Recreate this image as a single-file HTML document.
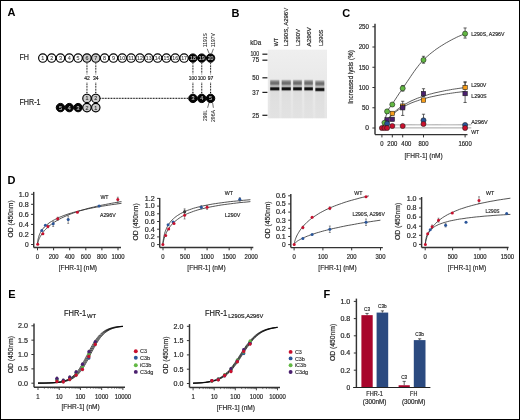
<!DOCTYPE html>
<html><head><meta charset="utf-8"><style>
html,body{margin:0;padding:0;background:#fff;}
body{width:520px;height:420px;overflow:hidden;}
svg{display:block;will-change:transform;font-family:"Liberation Sans", sans-serif;}
</style></head><body>
<svg width="520" height="420" viewBox="0 0 520 420" fill="#262626">
<rect x="0" y="0" width="520" height="420" fill="#fff"/>
<text x="7.60" y="16.40" font-size="11" fill="#000" font-weight="bold">A</text>
<text x="231.60" y="16.90" font-size="11" fill="#000" font-weight="bold">B</text>
<text x="342.20" y="16.70" font-size="11" fill="#000" font-weight="bold">C</text>
<text x="7.40" y="184.10" font-size="11" fill="#000" font-weight="bold">D</text>
<text x="8.20" y="297.70" font-size="11" fill="#000" font-weight="bold">E</text>
<text x="323.60" y="297.70" font-size="11" fill="#000" font-weight="bold">F</text>
<line x1="86.95" y1="63.20" x2="86.95" y2="74.20" stroke="#000" stroke-width="1.1" stroke-dasharray="0.8 0.75"/>
<line x1="86.95" y1="82.80" x2="86.95" y2="94.00" stroke="#000" stroke-width="1.1" stroke-dasharray="0.8 0.75"/>
<line x1="95.78" y1="63.20" x2="95.78" y2="74.20" stroke="#000" stroke-width="1.1" stroke-dasharray="0.8 0.75"/>
<line x1="95.78" y1="82.80" x2="95.78" y2="94.00" stroke="#000" stroke-width="1.1" stroke-dasharray="0.8 0.75"/>
<line x1="192.91" y1="63.20" x2="192.91" y2="74.20" stroke="#000" stroke-width="1.1" stroke-dasharray="0.8 0.75"/>
<line x1="192.91" y1="82.80" x2="192.91" y2="94.00" stroke="#000" stroke-width="1.1" stroke-dasharray="0.8 0.75"/>
<line x1="201.74" y1="63.20" x2="201.74" y2="74.20" stroke="#000" stroke-width="1.1" stroke-dasharray="0.8 0.75"/>
<line x1="201.74" y1="82.80" x2="201.74" y2="94.00" stroke="#000" stroke-width="1.1" stroke-dasharray="0.8 0.75"/>
<line x1="210.57" y1="63.20" x2="210.57" y2="74.20" stroke="#000" stroke-width="1.1" stroke-dasharray="0.8 0.75"/>
<line x1="210.57" y1="82.80" x2="210.57" y2="94.00" stroke="#000" stroke-width="1.1" stroke-dasharray="0.8 0.75"/>
<line x1="100.28" y1="98.40" x2="188.41" y2="98.40" stroke="#000" stroke-width="1.1" stroke-dasharray="0.8 0.75"/>
<circle cx="42.80" cy="58.10" r="4.2" fill="#fff" stroke="#000" stroke-width="1.15"/>
<text x="42.80" y="60.05" font-size="5.4" text-anchor="middle" fill="#444" stroke="#444" stroke-width="0.12">1</text>
<circle cx="51.63" cy="58.10" r="4.2" fill="#fff" stroke="#000" stroke-width="1.15"/>
<text x="51.63" y="60.05" font-size="5.4" text-anchor="middle" fill="#444" stroke="#444" stroke-width="0.12">2</text>
<circle cx="60.46" cy="58.10" r="4.2" fill="#fff" stroke="#000" stroke-width="1.15"/>
<text x="60.46" y="60.05" font-size="5.4" text-anchor="middle" fill="#444" stroke="#444" stroke-width="0.12">3</text>
<circle cx="69.29" cy="58.10" r="4.2" fill="#fff" stroke="#000" stroke-width="1.15"/>
<text x="69.29" y="60.05" font-size="5.4" text-anchor="middle" fill="#444" stroke="#444" stroke-width="0.12">4</text>
<circle cx="78.12" cy="58.10" r="4.2" fill="#fff" stroke="#000" stroke-width="1.15"/>
<text x="78.12" y="60.05" font-size="5.4" text-anchor="middle" fill="#444" stroke="#444" stroke-width="0.12">5</text>
<circle cx="86.95" cy="58.10" r="4.2" fill="#cdcdcd" stroke="#000" stroke-width="1.15"/>
<text x="86.95" y="60.05" font-size="5.4" text-anchor="middle" fill="#333" stroke="#333" stroke-width="0.12">6</text>
<circle cx="95.78" cy="58.10" r="4.2" fill="#cdcdcd" stroke="#000" stroke-width="1.15"/>
<text x="95.78" y="60.05" font-size="5.4" text-anchor="middle" fill="#333" stroke="#333" stroke-width="0.12">7</text>
<circle cx="104.61" cy="58.10" r="4.2" fill="#fff" stroke="#000" stroke-width="1.15"/>
<text x="104.61" y="60.05" font-size="5.4" text-anchor="middle" fill="#444" stroke="#444" stroke-width="0.12">8</text>
<circle cx="113.44" cy="58.10" r="4.2" fill="#fff" stroke="#000" stroke-width="1.15"/>
<text x="113.44" y="60.05" font-size="5.4" text-anchor="middle" fill="#444" stroke="#444" stroke-width="0.12">9</text>
<circle cx="122.27" cy="58.10" r="4.2" fill="#fff" stroke="#000" stroke-width="1.15"/>
<text x="122.27" y="60.05" font-size="4.8" text-anchor="middle" fill="#444" textLength="5.8" lengthAdjust="spacingAndGlyphs" stroke="#444" stroke-width="0.12">10</text>
<circle cx="131.10" cy="58.10" r="4.2" fill="#fff" stroke="#000" stroke-width="1.15"/>
<text x="131.10" y="60.05" font-size="4.8" text-anchor="middle" fill="#444" textLength="5.8" lengthAdjust="spacingAndGlyphs" stroke="#444" stroke-width="0.12">11</text>
<circle cx="139.93" cy="58.10" r="4.2" fill="#fff" stroke="#000" stroke-width="1.15"/>
<text x="139.93" y="60.05" font-size="4.8" text-anchor="middle" fill="#444" textLength="5.8" lengthAdjust="spacingAndGlyphs" stroke="#444" stroke-width="0.12">12</text>
<circle cx="148.76" cy="58.10" r="4.2" fill="#fff" stroke="#000" stroke-width="1.15"/>
<text x="148.76" y="60.05" font-size="4.8" text-anchor="middle" fill="#444" textLength="5.8" lengthAdjust="spacingAndGlyphs" stroke="#444" stroke-width="0.12">13</text>
<circle cx="157.59" cy="58.10" r="4.2" fill="#fff" stroke="#000" stroke-width="1.15"/>
<text x="157.59" y="60.05" font-size="4.8" text-anchor="middle" fill="#444" textLength="5.8" lengthAdjust="spacingAndGlyphs" stroke="#444" stroke-width="0.12">14</text>
<circle cx="166.42" cy="58.10" r="4.2" fill="#fff" stroke="#000" stroke-width="1.15"/>
<text x="166.42" y="60.05" font-size="4.8" text-anchor="middle" fill="#444" textLength="5.8" lengthAdjust="spacingAndGlyphs" stroke="#444" stroke-width="0.12">15</text>
<circle cx="175.25" cy="58.10" r="4.2" fill="#fff" stroke="#000" stroke-width="1.15"/>
<text x="175.25" y="60.05" font-size="4.8" text-anchor="middle" fill="#444" textLength="5.8" lengthAdjust="spacingAndGlyphs" stroke="#444" stroke-width="0.12">16</text>
<circle cx="184.08" cy="58.10" r="4.2" fill="#fff" stroke="#000" stroke-width="1.15"/>
<text x="184.08" y="60.05" font-size="4.8" text-anchor="middle" fill="#444" textLength="5.8" lengthAdjust="spacingAndGlyphs" stroke="#444" stroke-width="0.12">17</text>
<circle cx="192.91" cy="58.10" r="4.2" fill="#050505" stroke="#000" stroke-width="1.0"/>
<text x="192.91" y="60.05" font-size="4.8" text-anchor="middle" fill="#c8c8c8" textLength="5.8" lengthAdjust="spacingAndGlyphs" stroke="#c8c8c8" stroke-width="0.12">18</text>
<circle cx="201.74" cy="58.10" r="4.2" fill="#050505" stroke="#000" stroke-width="1.0"/>
<text x="201.74" y="60.05" font-size="4.8" text-anchor="middle" fill="#c8c8c8" textLength="5.8" lengthAdjust="spacingAndGlyphs" stroke="#c8c8c8" stroke-width="0.12">19</text>
<circle cx="210.57" cy="58.10" r="4.2" fill="#050505" stroke="#000" stroke-width="1.0"/>
<text x="210.57" y="60.05" font-size="4.8" text-anchor="middle" fill="#c8c8c8" textLength="5.8" lengthAdjust="spacingAndGlyphs" stroke="#c8c8c8" stroke-width="0.12">20</text>
<circle cx="86.95" cy="98.40" r="4.2" fill="#cdcdcd" stroke="#000" stroke-width="1.15"/>
<text x="86.95" y="100.35" font-size="5.4" text-anchor="middle" fill="#333" stroke="#333" stroke-width="0.12">1</text>
<circle cx="95.78" cy="98.40" r="4.2" fill="#cdcdcd" stroke="#000" stroke-width="1.15"/>
<text x="95.78" y="100.35" font-size="5.4" text-anchor="middle" fill="#333" stroke="#333" stroke-width="0.12">2</text>
<circle cx="86.95" cy="107.60" r="4.2" fill="#cdcdcd" stroke="#000" stroke-width="1.15"/>
<text x="86.95" y="109.55" font-size="5.4" text-anchor="middle" fill="#333" stroke="#333" stroke-width="0.12">2</text>
<circle cx="95.78" cy="107.60" r="4.2" fill="#cdcdcd" stroke="#000" stroke-width="1.15"/>
<text x="95.78" y="109.55" font-size="5.4" text-anchor="middle" fill="#333" stroke="#333" stroke-width="0.12">1</text>
<circle cx="60.46" cy="107.60" r="4.2" fill="#050505" stroke="#000" stroke-width="1.0"/>
<text x="60.46" y="109.55" font-size="5.4" text-anchor="middle" fill="#c8c8c8" stroke="#c8c8c8" stroke-width="0.12">5</text>
<circle cx="69.29" cy="107.60" r="4.2" fill="#050505" stroke="#000" stroke-width="1.0"/>
<text x="69.29" y="109.55" font-size="5.4" text-anchor="middle" fill="#c8c8c8" stroke="#c8c8c8" stroke-width="0.12">4</text>
<circle cx="78.12" cy="107.60" r="4.2" fill="#050505" stroke="#000" stroke-width="1.0"/>
<text x="78.12" y="109.55" font-size="5.4" text-anchor="middle" fill="#c8c8c8" stroke="#c8c8c8" stroke-width="0.12">3</text>
<circle cx="192.91" cy="98.40" r="4.2" fill="#050505" stroke="#000" stroke-width="1.0"/>
<text x="192.91" y="100.35" font-size="5.4" text-anchor="middle" fill="#c8c8c8" stroke="#c8c8c8" stroke-width="0.12">3</text>
<circle cx="201.74" cy="98.40" r="4.2" fill="#050505" stroke="#000" stroke-width="1.0"/>
<text x="201.74" y="100.35" font-size="5.4" text-anchor="middle" fill="#c8c8c8" stroke="#c8c8c8" stroke-width="0.12">4</text>
<circle cx="210.57" cy="98.40" r="4.2" fill="#050505" stroke="#000" stroke-width="1.0"/>
<text x="210.57" y="100.35" font-size="5.4" text-anchor="middle" fill="#c8c8c8" stroke="#c8c8c8" stroke-width="0.12">5</text>
<text x="19.50" y="60.00" font-size="8.5" textLength="9.5" lengthAdjust="spacingAndGlyphs" stroke="#262626" stroke-width="0.2">FH</text>
<text x="19.50" y="105.30" font-size="8.5" textLength="21" lengthAdjust="spacingAndGlyphs" stroke="#262626" stroke-width="0.2">FHR-1</text>
<text x="86.95" y="80.40" font-size="5.8" text-anchor="middle" fill="#222" textLength="5.6" lengthAdjust="spacingAndGlyphs" stroke="#222" stroke-width="0.18">42</text>
<text x="95.78" y="80.40" font-size="5.8" text-anchor="middle" fill="#222" textLength="5.6" lengthAdjust="spacingAndGlyphs" stroke="#222" stroke-width="0.18">34</text>
<text x="192.91" y="80.40" font-size="5.8" text-anchor="middle" fill="#222" textLength="8.2" lengthAdjust="spacingAndGlyphs" stroke="#222" stroke-width="0.18">100</text>
<text x="201.74" y="80.40" font-size="5.8" text-anchor="middle" fill="#222" textLength="8.2" lengthAdjust="spacingAndGlyphs" stroke="#222" stroke-width="0.18">100</text>
<text x="210.57" y="80.40" font-size="5.8" text-anchor="middle" fill="#222" textLength="5.6" lengthAdjust="spacingAndGlyphs" stroke="#222" stroke-width="0.18">97</text>
<text x="207.40" y="47.20" font-size="5.6" textLength="14" lengthAdjust="spacingAndGlyphs" transform="rotate(-90 207.40 47.20)" stroke="#262626" stroke-width="0.05">1191S</text>
<text x="214.70" y="47.20" font-size="5.6" textLength="14" lengthAdjust="spacingAndGlyphs" transform="rotate(-90 214.70 47.20)" stroke="#262626" stroke-width="0.05">1197V</text>
<line x1="207.20" y1="48.80" x2="209.20" y2="53.60" stroke="#222" stroke-width="0.65"/>
<line x1="213.40" y1="48.80" x2="211.60" y2="53.60" stroke="#222" stroke-width="0.65"/>
<text x="207.40" y="121.00" font-size="5.6" textLength="11" lengthAdjust="spacingAndGlyphs" transform="rotate(-90 207.40 121.00)" stroke="#262626" stroke-width="0.05">290L</text>
<text x="215.30" y="122.00" font-size="5.6" textLength="12" lengthAdjust="spacingAndGlyphs" transform="rotate(-90 215.30 122.00)" stroke="#262626" stroke-width="0.05">296A</text>
<line x1="209.00" y1="102.80" x2="207.60" y2="107.80" stroke="#222" stroke-width="0.65"/>
<line x1="212.60" y1="102.80" x2="213.40" y2="107.80" stroke="#222" stroke-width="0.65"/>
<defs><linearGradient id="gb" x1="0" y1="79.2" x2="0" y2="91.6" gradientUnits="userSpaceOnUse"><stop offset="0.000" stop-color="#e2e2e2"/><stop offset="0.081" stop-color="#b4b4b4"/><stop offset="0.161" stop-color="#8e8e8e"/><stop offset="0.242" stop-color="#747474"/><stop offset="0.331" stop-color="#6a6a6a"/><stop offset="0.411" stop-color="#7c7c7c"/><stop offset="0.492" stop-color="#a6a6a6"/><stop offset="0.565" stop-color="#c2c2c2"/><stop offset="0.621" stop-color="#9c9c9c"/><stop offset="0.677" stop-color="#3c3c3c"/><stop offset="0.734" stop-color="#121212"/><stop offset="0.815" stop-color="#0a0a0a"/><stop offset="0.863" stop-color="#2a2a2a"/><stop offset="0.919" stop-color="#9a9a9a"/><stop offset="1.000" stop-color="#d6d6d6"/></linearGradient><linearGradient id="gh" x1="0" y1="0" x2="1" y2="0"><stop offset="0" stop-color="#fff" stop-opacity="0"/><stop offset="0.13" stop-color="#fff" stop-opacity="1"/><stop offset="0.87" stop-color="#fff" stop-opacity="1"/><stop offset="1" stop-color="#fff" stop-opacity="0"/></linearGradient><mask id="mh" maskContentUnits="objectBoundingBox"><rect x="0" y="0" width="1" height="1" fill="url(#gh)"/></mask><linearGradient id="gl" x1="0" y1="0" x2="0" y2="1"><stop offset="0" stop-color="#dcdcdc"/><stop offset="0.5" stop-color="#e0e0e0"/><stop offset="1" stop-color="#e2e2e2"/></linearGradient><linearGradient id="gbg" x1="0" y1="0" x2="0" y2="1"><stop offset="0" stop-color="#efefef"/><stop offset="0.4" stop-color="#eaeaea"/><stop offset="1" stop-color="#e6e6e6"/></linearGradient></defs>
<rect x="267.80" y="49.70" width="59.20" height="68.60" fill="url(#gbg)"/>
<rect x="269.40" y="86.00" width="10.60" height="32.30" fill="url(#gl)" mask="url(#mh)"/>
<rect x="281.00" y="86.00" width="10.60" height="32.30" fill="url(#gl)" mask="url(#mh)"/>
<rect x="292.40" y="86.00" width="10.20" height="32.30" fill="url(#gl)" mask="url(#mh)"/>
<rect x="303.60" y="86.00" width="10.00" height="32.30" fill="url(#gl)" mask="url(#mh)"/>
<rect x="314.60" y="86.00" width="10.40" height="32.30" fill="url(#gl)" mask="url(#mh)"/>
<rect x="269.40" y="79.20" width="10.60" height="12.40" fill="url(#gb)" mask="url(#mh)"/>
<rect x="281.00" y="79.20" width="10.60" height="12.40" fill="url(#gb)" mask="url(#mh)"/>
<rect x="292.40" y="79.20" width="10.20" height="12.40" fill="url(#gb)" mask="url(#mh)"/>
<rect x="303.60" y="79.20" width="10.00" height="12.40" fill="url(#gb)" mask="url(#mh)"/>
<rect x="314.60" y="79.20" width="10.40" height="12.40" fill="url(#gb)" mask="url(#mh)" transform="translate(0 0.6)"/>
<line x1="262.40" y1="54.20" x2="267.40" y2="54.20" stroke="#222" stroke-width="1.25"/>
<text x="259.10" y="56.40" font-size="6.3" text-anchor="end" textLength="8.6" lengthAdjust="spacingAndGlyphs" stroke="#262626" stroke-width="0.18">100</text>
<line x1="262.40" y1="60.20" x2="267.40" y2="60.20" stroke="#222" stroke-width="1.25"/>
<text x="259.10" y="62.40" font-size="6.3" text-anchor="end" textLength="6.8" lengthAdjust="spacingAndGlyphs" stroke="#262626" stroke-width="0.18">75</text>
<line x1="262.40" y1="77.80" x2="267.40" y2="77.80" stroke="#222" stroke-width="1.25"/>
<text x="259.10" y="80.00" font-size="6.3" text-anchor="end" textLength="6.8" lengthAdjust="spacingAndGlyphs" stroke="#262626" stroke-width="0.18">50</text>
<line x1="262.40" y1="92.40" x2="267.40" y2="92.40" stroke="#222" stroke-width="1.25"/>
<text x="259.10" y="94.60" font-size="6.3" text-anchor="end" textLength="6.8" lengthAdjust="spacingAndGlyphs" stroke="#262626" stroke-width="0.18">37</text>
<line x1="262.40" y1="115.30" x2="267.40" y2="115.30" stroke="#222" stroke-width="1.25"/>
<text x="259.10" y="117.50" font-size="6.3" text-anchor="end" textLength="6.8" lengthAdjust="spacingAndGlyphs" stroke="#262626" stroke-width="0.18">25</text>
<text x="250.20" y="45.20" font-size="6.4" textLength="11" lengthAdjust="spacingAndGlyphs" stroke="#262626" stroke-width="0.18">kDa</text>
<text x="278.10" y="46.20" font-size="6.1" textLength="8.2" lengthAdjust="spacingAndGlyphs" transform="rotate(-90 278.10 46.20)" stroke="#262626" stroke-width="0.18">WT</text>
<text x="288.50" y="46.20" font-size="6.1" textLength="38.4" lengthAdjust="spacingAndGlyphs" transform="rotate(-90 288.50 46.20)" stroke="#262626" stroke-width="0.18">L290S, A296V</text>
<text x="299.70" y="46.10" font-size="6.1" textLength="17.2" lengthAdjust="spacingAndGlyphs" transform="rotate(-90 299.70 46.10)" stroke="#262626" stroke-width="0.18">L290V</text>
<text x="311.30" y="46.60" font-size="6.1" textLength="19.5" lengthAdjust="spacingAndGlyphs" transform="rotate(-90 311.30 46.60)" stroke="#262626" stroke-width="0.18">A296V</text>
<text x="322.90" y="46.10" font-size="6.1" textLength="16.5" lengthAdjust="spacingAndGlyphs" transform="rotate(-90 322.90 46.10)" stroke="#262626" stroke-width="0.18">L290S</text>
<line x1="375.00" y1="23.70" x2="375.00" y2="134.60" stroke="#333" stroke-width="1.45"/>
<line x1="372.40" y1="26.75" x2="375.00" y2="26.75" stroke="#333" stroke-width="1.0"/>
<text x="369.00" y="29.10" font-size="6.6" text-anchor="end" textLength="10.3" lengthAdjust="spacingAndGlyphs" stroke="#262626" stroke-width="0.18">250</text>
<line x1="372.40" y1="47.00" x2="375.00" y2="47.00" stroke="#333" stroke-width="1.0"/>
<text x="369.00" y="49.35" font-size="6.6" text-anchor="end" textLength="10.3" lengthAdjust="spacingAndGlyphs" stroke="#262626" stroke-width="0.18">200</text>
<line x1="372.40" y1="67.25" x2="375.00" y2="67.25" stroke="#333" stroke-width="1.0"/>
<text x="369.00" y="69.60" font-size="6.6" text-anchor="end" textLength="10.3" lengthAdjust="spacingAndGlyphs" stroke="#262626" stroke-width="0.18">150</text>
<line x1="372.40" y1="87.50" x2="375.00" y2="87.50" stroke="#333" stroke-width="1.0"/>
<text x="369.00" y="89.85" font-size="6.6" text-anchor="end" textLength="10.3" lengthAdjust="spacingAndGlyphs" stroke="#262626" stroke-width="0.18">100</text>
<line x1="372.40" y1="107.75" x2="375.00" y2="107.75" stroke="#333" stroke-width="1.0"/>
<text x="369.00" y="110.10" font-size="6.6" text-anchor="end" textLength="7.0" lengthAdjust="spacingAndGlyphs" stroke="#262626" stroke-width="0.18">50</text>
<line x1="372.40" y1="128.00" x2="375.00" y2="128.00" stroke="#333" stroke-width="1.0"/>
<text x="369.00" y="130.35" font-size="6.6" text-anchor="end" textLength="3.7" lengthAdjust="spacingAndGlyphs" stroke="#262626" stroke-width="0.18">0</text>
<line x1="375.00" y1="134.60" x2="467.50" y2="134.60" stroke="#333" stroke-width="1.45"/>
<line x1="381.90" y1="134.60" x2="381.90" y2="137.40" stroke="#333" stroke-width="1.0"/>
<text x="381.90" y="145.80" font-size="6.4" text-anchor="middle" textLength="3.3" lengthAdjust="spacingAndGlyphs" stroke="#262626" stroke-width="0.18">0</text>
<line x1="392.30" y1="134.60" x2="392.30" y2="137.40" stroke="#333" stroke-width="1.0"/>
<text x="392.30" y="145.80" font-size="6.4" text-anchor="middle" textLength="9.9" lengthAdjust="spacingAndGlyphs" stroke="#262626" stroke-width="0.18">200</text>
<line x1="402.70" y1="134.60" x2="402.70" y2="137.40" stroke="#333" stroke-width="1.0"/>
<text x="406.30" y="145.80" font-size="6.4" text-anchor="middle" textLength="9.9" lengthAdjust="spacingAndGlyphs" stroke="#262626" stroke-width="0.18">400</text>
<line x1="423.50" y1="134.60" x2="423.50" y2="137.40" stroke="#333" stroke-width="1.0"/>
<text x="423.50" y="145.80" font-size="6.4" text-anchor="middle" textLength="9.9" lengthAdjust="spacingAndGlyphs" stroke="#262626" stroke-width="0.18">800</text>
<line x1="465.10" y1="134.60" x2="465.10" y2="137.40" stroke="#333" stroke-width="1.0"/>
<text x="465.10" y="145.80" font-size="6.4" text-anchor="middle" textLength="13.2" lengthAdjust="spacingAndGlyphs" stroke="#262626" stroke-width="0.18">1600</text>
<text x="352.84" y="76.90" font-size="7.8" text-anchor="middle" textLength="53.5" lengthAdjust="spacingAndGlyphs" transform="rotate(-90 352.84 76.90)" stroke="#262626" stroke-width="0.18">Increased lysis (%)</text>
<text x="423.60" y="157.80" font-size="8.0" text-anchor="middle" textLength="38.3" lengthAdjust="spacingAndGlyphs" stroke="#262626" stroke-width="0.18">[FHR-1] (nM)</text>
<path d="M381.9,121.8 L382.9,123.5 L384.0,124.2 L385.0,124.5 L386.1,124.7 L387.1,124.7 L388.1,124.8 L389.2,124.8 L390.2,124.8 L391.3,124.8 L392.3,124.8 L393.3,124.8 L394.4,124.8 L395.4,124.8 L396.5,124.8 L397.5,124.8 L398.5,124.8 L399.6,124.8 L400.6,124.8 L401.7,124.8 L402.7,124.8 L403.7,124.8 L404.8,124.8 L405.8,124.8 L406.9,124.8 L407.9,124.8 L408.9,124.8 L410.0,124.8 L411.0,124.8 L412.1,124.8 L413.1,124.8 L414.1,124.8 L415.2,124.8 L416.2,124.8 L417.3,124.8 L418.3,124.8 L419.3,124.8 L420.4,124.8 L421.4,124.8 L422.5,124.8 L423.5,124.8 L424.5,124.8 L425.6,124.8 L426.6,124.8 L427.7,124.8 L428.7,124.8 L429.7,124.8 L430.8,124.8 L431.8,124.8 L432.9,124.8 L433.9,124.8 L434.9,124.8 L436.0,124.8 L437.0,124.8 L438.1,124.8 L439.1,124.8 L440.1,124.8 L441.2,124.8 L442.2,124.8 L443.3,124.8 L444.3,124.8 L445.3,124.8 L446.4,124.8 L447.4,124.8 L448.5,124.8 L449.5,124.8 L450.5,124.8 L451.6,124.8 L452.6,124.8 L453.7,124.8 L454.7,124.8 L455.7,124.8 L456.8,124.8 L457.8,124.8 L458.9,124.8 L459.9,124.8 L460.9,124.8 L462.0,124.8 L463.0,124.8 L464.1,124.8 L465.1,124.8 L466.1,124.8 L467.2,124.8 L468.2,124.8 L469.3,124.8 L470.3,124.8 L471.3,124.8" stroke="#999" stroke-width="0.9" fill="none"/>
<path d="M381.9,127.9 L471.3,127.9" stroke="#999" stroke-width="0.9" fill="none"/>
<path d="M381.9,128.0 L384.0,124.5 L386.1,121.4 L388.1,118.6 L390.2,116.2 L392.3,114.0 L394.4,112.0 L396.5,110.2 L398.5,108.5 L400.6,107.0 L402.7,105.6 L404.8,104.3 L406.9,103.2 L408.9,102.1 L411.0,101.0 L413.1,100.1 L415.2,99.2 L417.3,98.3 L419.3,97.6 L421.4,96.8 L423.5,96.1 L425.6,95.5 L427.7,94.8 L429.7,94.2 L431.8,93.7 L433.9,93.1 L436.0,92.6 L438.1,92.2 L440.1,91.7 L442.2,91.3 L444.3,90.8 L446.4,90.4 L448.5,90.1 L450.5,89.7 L452.6,89.3 L454.7,89.0 L456.8,88.7 L458.9,88.4 L460.9,88.1 L463.0,87.8 L465.1,87.5" stroke="#333" stroke-width="0.8" fill="none"/>
<path d="M381.9,128.0 L384.0,124.6 L386.1,121.7 L388.1,119.1 L390.2,116.9 L392.3,114.8 L394.4,113.0 L396.5,111.3 L398.5,109.8 L400.6,108.5 L402.7,107.2 L404.8,106.1 L406.9,105.0 L408.9,104.1 L411.0,103.1 L413.1,102.3 L415.2,101.5 L417.3,100.8 L419.3,100.1 L421.4,99.4 L423.5,98.8 L425.6,98.3 L427.7,97.7 L429.7,97.2 L431.8,96.7 L433.9,96.3 L436.0,95.8 L438.1,95.4 L440.1,95.0 L442.2,94.6 L444.3,94.3 L446.4,93.9 L448.5,93.6 L450.5,93.3 L452.6,93.0 L454.7,92.7 L456.8,92.4 L458.9,92.2 L460.9,91.9 L463.0,91.7 L465.1,91.4" stroke="#333" stroke-width="0.8" fill="none"/>
<path d="M381.9,128.0 L383.6,124.1 L385.3,118.6 L387.0,112.3 L388.7,109.0 L390.4,106.6 L392.1,104.3 L393.8,101.7 L395.5,99.1 L397.2,96.5 L398.9,93.9 L400.6,91.4 L402.3,88.9 L404.0,86.4 L405.7,83.9 L407.4,81.4 L409.1,78.9 L410.8,76.3 L412.5,73.8 L414.2,71.4 L415.9,69.0 L417.6,66.8 L419.3,64.6 L421.0,62.6 L422.7,60.8 L424.3,59.1 L426.0,57.5 L427.7,56.0 L429.4,54.5 L431.1,53.1 L432.8,51.8 L434.5,50.5 L436.2,49.2 L437.9,48.1 L439.6,46.9 L441.3,45.8 L443.0,44.8 L444.7,43.7 L446.4,42.7 L448.1,41.8 L449.8,40.8 L451.5,39.9 L453.2,39.0 L454.9,38.2 L456.6,37.3 L458.3,36.5 L460.0,35.8 L461.7,35.1 L463.4,34.4 L465.1,33.8" stroke="#333" stroke-width="0.8" fill="none"/>
<rect x="390.10" y="111.22" width="4.40" height="4.40" fill="#f59c1a" stroke="#1a1a1a" stroke-width="0.55"/>
<rect x="400.50" y="103.93" width="4.40" height="4.40" fill="#f59c1a" stroke="#1a1a1a" stroke-width="0.55"/>
<rect x="384.90" y="117.70" width="4.40" height="4.40" fill="#4a1f6e" stroke="#1a1a1a" stroke-width="0.55"/>
<rect x="390.10" y="117.09" width="4.40" height="4.40" fill="#4a1f6e" stroke="#1a1a1a" stroke-width="0.55"/>
<line x1="402.70" y1="101.27" x2="402.70" y2="115.44" stroke="#222" stroke-width="0.7"/>
<line x1="401.10" y1="101.27" x2="404.30" y2="101.27" stroke="#222" stroke-width="0.7"/>
<line x1="401.10" y1="115.44" x2="404.30" y2="115.44" stroke="#222" stroke-width="0.7"/>
<rect x="400.50" y="105.55" width="4.40" height="4.40" fill="#4a1f6e" stroke="#1a1a1a" stroke-width="0.55"/>
<line x1="423.50" y1="88.72" x2="423.50" y2="96.41" stroke="#222" stroke-width="0.7"/>
<line x1="421.90" y1="88.72" x2="425.10" y2="88.72" stroke="#222" stroke-width="0.7"/>
<line x1="421.90" y1="96.41" x2="425.10" y2="96.41" stroke="#222" stroke-width="0.7"/>
<rect x="421.30" y="91.37" width="4.40" height="4.40" fill="#4a1f6e" stroke="#1a1a1a" stroke-width="0.55"/>
<line x1="465.10" y1="82.23" x2="465.10" y2="102.48" stroke="#222" stroke-width="0.7"/>
<line x1="463.50" y1="82.23" x2="466.70" y2="82.23" stroke="#222" stroke-width="0.7"/>
<line x1="463.50" y1="102.48" x2="466.70" y2="102.48" stroke="#222" stroke-width="0.7"/>
<rect x="462.90" y="91.37" width="4.40" height="4.40" fill="#4a1f6e" stroke="#1a1a1a" stroke-width="0.55"/>
<rect x="421.30" y="97.86" width="4.40" height="4.40" fill="#f59c1a" stroke="#1a1a1a" stroke-width="0.55"/>
<line x1="465.10" y1="81.83" x2="465.10" y2="87.50" stroke="#222" stroke-width="0.7"/>
<line x1="463.50" y1="81.83" x2="466.70" y2="81.83" stroke="#222" stroke-width="0.7"/>
<line x1="463.50" y1="87.50" x2="466.70" y2="87.50" stroke="#222" stroke-width="0.7"/>
<rect x="462.90" y="85.30" width="4.40" height="4.40" fill="#f59c1a" stroke="#1a1a1a" stroke-width="0.55"/>
<circle cx="384.50" cy="122.73" r="2.55" fill="#62b843" stroke="#1a1a1a" stroke-width="0.55"/>
<circle cx="387.10" cy="111.39" r="2.55" fill="#62b843" stroke="#1a1a1a" stroke-width="0.55"/>
<circle cx="392.30" cy="104.51" r="2.55" fill="#62b843" stroke="#1a1a1a" stroke-width="0.55"/>
<line x1="402.70" y1="85.47" x2="402.70" y2="91.14" stroke="#222" stroke-width="0.7"/>
<line x1="401.10" y1="85.47" x2="404.30" y2="85.47" stroke="#222" stroke-width="0.7"/>
<line x1="401.10" y1="91.14" x2="404.30" y2="91.14" stroke="#222" stroke-width="0.7"/>
<circle cx="402.70" cy="88.31" r="2.55" fill="#62b843" stroke="#1a1a1a" stroke-width="0.55"/>
<line x1="423.50" y1="56.31" x2="423.50" y2="63.20" stroke="#222" stroke-width="0.7"/>
<line x1="421.90" y1="56.31" x2="425.10" y2="56.31" stroke="#222" stroke-width="0.7"/>
<line x1="421.90" y1="63.20" x2="425.10" y2="63.20" stroke="#222" stroke-width="0.7"/>
<circle cx="423.50" cy="59.96" r="2.55" fill="#62b843" stroke="#1a1a1a" stroke-width="0.55"/>
<line x1="465.10" y1="27.96" x2="465.10" y2="38.09" stroke="#222" stroke-width="0.7"/>
<line x1="463.50" y1="27.96" x2="466.70" y2="27.96" stroke="#222" stroke-width="0.7"/>
<line x1="463.50" y1="38.09" x2="466.70" y2="38.09" stroke="#222" stroke-width="0.7"/>
<circle cx="465.10" cy="33.63" r="2.55" fill="#62b843" stroke="#1a1a1a" stroke-width="0.55"/>
<circle cx="387.10" cy="123.55" r="2.55" fill="#2a5599" stroke="#1a1a1a" stroke-width="0.55"/>
<line x1="423.50" y1="114.23" x2="423.50" y2="123.95" stroke="#222" stroke-width="0.7"/>
<line x1="421.90" y1="114.23" x2="425.10" y2="114.23" stroke="#222" stroke-width="0.7"/>
<line x1="421.90" y1="123.95" x2="425.10" y2="123.95" stroke="#222" stroke-width="0.7"/>
<circle cx="423.50" cy="120.31" r="2.55" fill="#2a5599" stroke="#1a1a1a" stroke-width="0.55"/>
<circle cx="465.10" cy="124.96" r="2.55" fill="#2a5599" stroke="#1a1a1a" stroke-width="0.55"/>
<circle cx="381.90" cy="128.00" r="2.55" fill="#c8102e" stroke="#1a1a1a" stroke-width="0.55"/>
<circle cx="384.50" cy="128.00" r="2.55" fill="#c8102e" stroke="#1a1a1a" stroke-width="0.55"/>
<circle cx="387.10" cy="128.00" r="2.55" fill="#c8102e" stroke="#1a1a1a" stroke-width="0.55"/>
<circle cx="392.30" cy="125.97" r="2.55" fill="#c8102e" stroke="#1a1a1a" stroke-width="0.55"/>
<circle cx="402.70" cy="125.97" r="2.55" fill="#c8102e" stroke="#1a1a1a" stroke-width="0.55"/>
<circle cx="423.50" cy="123.95" r="2.55" fill="#c8102e" stroke="#1a1a1a" stroke-width="0.55"/>
<circle cx="465.10" cy="128.00" r="2.55" fill="#c8102e" stroke="#1a1a1a" stroke-width="0.55"/>
<text x="471.20" y="36.20" font-size="6.2" textLength="33.2" lengthAdjust="spacingAndGlyphs" stroke="#262626" stroke-width="0.18">L290S, A296V</text>
<text x="471.20" y="86.90" font-size="6.2" textLength="15.2" lengthAdjust="spacingAndGlyphs" stroke="#262626" stroke-width="0.18">L290V</text>
<text x="471.20" y="98.40" font-size="6.2" textLength="15.5" lengthAdjust="spacingAndGlyphs" stroke="#262626" stroke-width="0.18">L290S</text>
<text x="471.20" y="124.40" font-size="6.2" textLength="16.5" lengthAdjust="spacingAndGlyphs" stroke="#262626" stroke-width="0.18">A296V</text>
<text x="471.20" y="134.20" font-size="6.2" textLength="8" lengthAdjust="spacingAndGlyphs" stroke="#262626" stroke-width="0.18">WT</text>
<line x1="33.70" y1="191.90" x2="33.70" y2="247.50" stroke="#333" stroke-width="1.45"/>
<line x1="31.10" y1="194.25" x2="33.70" y2="194.25" stroke="#333" stroke-width="1.0"/>
<text x="28.70" y="196.60" font-size="6.6" text-anchor="end" textLength="9.9" lengthAdjust="spacingAndGlyphs" stroke="#262626" stroke-width="0.18">1.0</text>
<line x1="31.10" y1="204.30" x2="33.70" y2="204.30" stroke="#333" stroke-width="1.0"/>
<text x="28.70" y="206.65" font-size="6.6" text-anchor="end" textLength="9.9" lengthAdjust="spacingAndGlyphs" stroke="#262626" stroke-width="0.18">0.8</text>
<line x1="31.10" y1="214.35" x2="33.70" y2="214.35" stroke="#333" stroke-width="1.0"/>
<text x="28.70" y="216.70" font-size="6.6" text-anchor="end" textLength="9.9" lengthAdjust="spacingAndGlyphs" stroke="#262626" stroke-width="0.18">0.6</text>
<line x1="31.10" y1="224.40" x2="33.70" y2="224.40" stroke="#333" stroke-width="1.0"/>
<text x="28.70" y="226.75" font-size="6.6" text-anchor="end" textLength="9.9" lengthAdjust="spacingAndGlyphs" stroke="#262626" stroke-width="0.18">0.4</text>
<line x1="31.10" y1="234.45" x2="33.70" y2="234.45" stroke="#333" stroke-width="1.0"/>
<text x="28.70" y="236.80" font-size="6.6" text-anchor="end" textLength="9.9" lengthAdjust="spacingAndGlyphs" stroke="#262626" stroke-width="0.18">0.2</text>
<line x1="31.10" y1="244.50" x2="33.70" y2="244.50" stroke="#333" stroke-width="1.0"/>
<text x="28.70" y="246.85" font-size="6.6" text-anchor="end" textLength="3.7" lengthAdjust="spacingAndGlyphs" stroke="#262626" stroke-width="0.18">0</text>
<line x1="33.70" y1="247.50" x2="121.00" y2="247.50" stroke="#333" stroke-width="1.45"/>
<line x1="37.50" y1="247.50" x2="37.50" y2="250.30" stroke="#333" stroke-width="1.0"/>
<text x="37.50" y="259.20" font-size="6.4" text-anchor="middle" textLength="3.3" lengthAdjust="spacingAndGlyphs" stroke="#262626" stroke-width="0.18">0</text>
<line x1="53.60" y1="247.50" x2="53.60" y2="250.30" stroke="#333" stroke-width="1.0"/>
<text x="53.60" y="259.20" font-size="6.4" text-anchor="middle" textLength="9.9" lengthAdjust="spacingAndGlyphs" stroke="#262626" stroke-width="0.18">200</text>
<line x1="69.70" y1="247.50" x2="69.70" y2="250.30" stroke="#333" stroke-width="1.0"/>
<text x="69.70" y="259.20" font-size="6.4" text-anchor="middle" textLength="9.9" lengthAdjust="spacingAndGlyphs" stroke="#262626" stroke-width="0.18">400</text>
<line x1="85.80" y1="247.50" x2="85.80" y2="250.30" stroke="#333" stroke-width="1.0"/>
<text x="85.80" y="259.20" font-size="6.4" text-anchor="middle" textLength="9.9" lengthAdjust="spacingAndGlyphs" stroke="#262626" stroke-width="0.18">600</text>
<line x1="101.90" y1="247.50" x2="101.90" y2="250.30" stroke="#333" stroke-width="1.0"/>
<text x="101.90" y="259.20" font-size="6.4" text-anchor="middle" textLength="9.9" lengthAdjust="spacingAndGlyphs" stroke="#262626" stroke-width="0.18">800</text>
<line x1="118.00" y1="247.50" x2="118.00" y2="250.30" stroke="#333" stroke-width="1.0"/>
<text x="118.00" y="259.20" font-size="6.4" text-anchor="middle" textLength="13.2" lengthAdjust="spacingAndGlyphs" stroke="#262626" stroke-width="0.18">1000</text>
<text x="13.00" y="218.90" font-size="7.0" text-anchor="middle" textLength="37.2" lengthAdjust="spacingAndGlyphs" transform="rotate(-90 13.00 218.90)" stroke="#262626" stroke-width="0.18">OD (450nm)</text>
<text x="77.90" y="269.50" font-size="8.0" text-anchor="middle" textLength="38.3" lengthAdjust="spacingAndGlyphs" stroke="#262626" stroke-width="0.18">[FHR-1] (nM)</text>
<path d="M37.6,244.4 L37.6,243.0 L37.7,241.6 L37.9,240.2 L38.2,238.8 L38.5,237.5 L38.9,236.2 L39.3,234.9 L39.8,233.7 L40.4,232.5 L41.1,231.3 L41.8,230.2 L42.6,229.1 L43.5,228.0 L44.4,227.0 L45.5,226.0 L46.5,225.0 L47.7,224.1 L48.9,223.1 L50.2,222.2 L51.6,221.4 L53.0,220.5 L54.5,219.7 L56.1,218.9 L57.7,218.1 L59.4,217.3 L61.2,216.6 L63.1,215.8 L65.0,215.1 L67.0,214.4 L69.0,213.7 L71.2,213.1 L73.4,212.4 L75.7,211.8 L78.0,211.2 L80.4,210.6 L82.9,210.0 L85.4,209.4 L88.1,208.8 L90.7,208.3 L93.5,207.7 L96.3,207.2 L99.2,206.7 L102.2,206.2 L105.3,205.7 L108.4,205.2 L111.5,204.7 L114.8,204.3 L118.1,203.8 L121.5,203.3" stroke="#2a2a2a" stroke-width="0.8" fill="none"/>
<path d="M37.6,244.4 L37.6,244.0 L37.7,243.3 L37.9,242.5 L38.2,241.6 L38.5,240.6 L38.9,239.5 L39.3,238.5 L39.8,237.4 L40.4,236.3 L41.1,235.2 L41.8,234.0 L42.6,232.9 L43.5,231.8 L44.4,230.6 L45.5,229.5 L46.5,228.4 L47.7,227.3 L48.9,226.2 L50.2,225.2 L51.6,224.1 L53.0,223.1 L54.5,222.1 L56.1,221.1 L57.7,220.1 L59.4,219.2 L61.2,218.2 L63.1,217.3 L65.0,216.4 L67.0,215.5 L69.0,214.7 L71.2,213.8 L73.4,213.0 L75.7,212.2 L78.0,211.4 L80.4,210.6 L82.9,209.9 L85.4,209.2 L88.1,208.4 L90.7,207.7 L93.5,207.1 L96.3,206.4 L99.2,205.7 L102.2,205.1 L105.3,204.5 L108.4,203.9 L111.5,203.3 L114.8,202.7 L118.1,202.1 L121.5,201.6" stroke="#2a2a2a" stroke-width="0.8" fill="none"/>
<circle cx="37.70" cy="244.30" r="1.5" fill="#c8102e"/>
<circle cx="41.80" cy="230.60" r="1.5" fill="#2a5599"/>
<circle cx="42.90" cy="233.70" r="1.5" fill="#c8102e"/>
<circle cx="45.40" cy="225.30" r="1.5" fill="#2a5599"/>
<line x1="47.90" y1="225.20" x2="47.90" y2="227.80" stroke="#444" stroke-width="0.55"/>
<line x1="46.95" y1="225.20" x2="48.85" y2="225.20" stroke="#444" stroke-width="0.55"/>
<line x1="46.95" y1="227.80" x2="48.85" y2="227.80" stroke="#444" stroke-width="0.55"/>
<circle cx="47.90" cy="226.50" r="1.5" fill="#c8102e"/>
<line x1="53.20" y1="221.70" x2="53.20" y2="226.50" stroke="#444" stroke-width="0.55"/>
<line x1="52.25" y1="221.70" x2="54.15" y2="221.70" stroke="#444" stroke-width="0.55"/>
<line x1="52.25" y1="226.50" x2="54.15" y2="226.50" stroke="#444" stroke-width="0.55"/>
<circle cx="53.20" cy="223.70" r="1.5" fill="#2a5599"/>
<line x1="57.70" y1="217.20" x2="57.70" y2="220.40" stroke="#444" stroke-width="0.55"/>
<line x1="56.75" y1="217.20" x2="58.65" y2="217.20" stroke="#444" stroke-width="0.55"/>
<line x1="56.75" y1="220.40" x2="58.65" y2="220.40" stroke="#444" stroke-width="0.55"/>
<circle cx="57.70" cy="218.80" r="1.5" fill="#c8102e"/>
<line x1="68.20" y1="216.00" x2="68.20" y2="223.40" stroke="#444" stroke-width="0.55"/>
<line x1="67.25" y1="216.00" x2="69.15" y2="216.00" stroke="#444" stroke-width="0.55"/>
<line x1="67.25" y1="223.40" x2="69.15" y2="223.40" stroke="#444" stroke-width="0.55"/>
<circle cx="68.20" cy="219.60" r="1.5" fill="#2a5599"/>
<circle cx="77.40" cy="212.30" r="1.5" fill="#c8102e"/>
<circle cx="99.10" cy="206.10" r="1.5" fill="#2a5599"/>
<line x1="117.80" y1="197.20" x2="117.80" y2="203.00" stroke="#444" stroke-width="0.55"/>
<line x1="116.85" y1="197.20" x2="118.75" y2="197.20" stroke="#444" stroke-width="0.55"/>
<line x1="116.85" y1="203.00" x2="118.75" y2="203.00" stroke="#444" stroke-width="0.55"/>
<circle cx="117.80" cy="199.50" r="1.5" fill="#c8102e"/>
<text x="100.40" y="199.20" font-size="5.9" textLength="8.2" lengthAdjust="spacingAndGlyphs" stroke="#262626" stroke-width="0.18">WT</text>
<text x="100.00" y="217.20" font-size="5.9" textLength="15.6" lengthAdjust="spacingAndGlyphs" stroke="#262626" stroke-width="0.18">A296V</text>
<line x1="159.70" y1="198.00" x2="159.70" y2="247.50" stroke="#333" stroke-width="1.45"/>
<line x1="157.10" y1="198.40" x2="159.70" y2="198.40" stroke="#333" stroke-width="1.0"/>
<text x="154.70" y="200.75" font-size="6.6" text-anchor="end" textLength="9.9" lengthAdjust="spacingAndGlyphs" stroke="#262626" stroke-width="0.18">1.2</text>
<line x1="157.10" y1="206.10" x2="159.70" y2="206.10" stroke="#333" stroke-width="1.0"/>
<text x="154.70" y="208.45" font-size="6.6" text-anchor="end" textLength="9.9" lengthAdjust="spacingAndGlyphs" stroke="#262626" stroke-width="0.18">1.0</text>
<line x1="157.10" y1="213.80" x2="159.70" y2="213.80" stroke="#333" stroke-width="1.0"/>
<text x="154.70" y="216.15" font-size="6.6" text-anchor="end" textLength="9.9" lengthAdjust="spacingAndGlyphs" stroke="#262626" stroke-width="0.18">0.8</text>
<line x1="157.10" y1="221.50" x2="159.70" y2="221.50" stroke="#333" stroke-width="1.0"/>
<text x="154.70" y="223.85" font-size="6.6" text-anchor="end" textLength="9.9" lengthAdjust="spacingAndGlyphs" stroke="#262626" stroke-width="0.18">0.6</text>
<line x1="157.10" y1="229.20" x2="159.70" y2="229.20" stroke="#333" stroke-width="1.0"/>
<text x="154.70" y="231.55" font-size="6.6" text-anchor="end" textLength="9.9" lengthAdjust="spacingAndGlyphs" stroke="#262626" stroke-width="0.18">0.4</text>
<line x1="157.10" y1="236.90" x2="159.70" y2="236.90" stroke="#333" stroke-width="1.0"/>
<text x="154.70" y="239.25" font-size="6.6" text-anchor="end" textLength="9.9" lengthAdjust="spacingAndGlyphs" stroke="#262626" stroke-width="0.18">0.2</text>
<line x1="157.10" y1="244.60" x2="159.70" y2="244.60" stroke="#333" stroke-width="1.0"/>
<text x="154.70" y="246.95" font-size="6.6" text-anchor="end" textLength="3.7" lengthAdjust="spacingAndGlyphs" stroke="#262626" stroke-width="0.18">0</text>
<line x1="159.70" y1="247.50" x2="253.30" y2="247.50" stroke="#333" stroke-width="1.45"/>
<line x1="163.00" y1="247.50" x2="163.00" y2="250.30" stroke="#333" stroke-width="1.0"/>
<text x="163.00" y="259.20" font-size="6.4" text-anchor="middle" textLength="3.3" lengthAdjust="spacingAndGlyphs" stroke="#262626" stroke-width="0.18">0</text>
<line x1="185.05" y1="247.50" x2="185.05" y2="250.30" stroke="#333" stroke-width="1.0"/>
<text x="185.05" y="259.20" font-size="6.4" text-anchor="middle" textLength="9.9" lengthAdjust="spacingAndGlyphs" stroke="#262626" stroke-width="0.18">500</text>
<line x1="207.10" y1="247.50" x2="207.10" y2="250.30" stroke="#333" stroke-width="1.0"/>
<text x="207.10" y="259.20" font-size="6.4" text-anchor="middle" textLength="13.2" lengthAdjust="spacingAndGlyphs" stroke="#262626" stroke-width="0.18">1000</text>
<line x1="229.15" y1="247.50" x2="229.15" y2="250.30" stroke="#333" stroke-width="1.0"/>
<text x="229.15" y="259.20" font-size="6.4" text-anchor="middle" textLength="13.2" lengthAdjust="spacingAndGlyphs" stroke="#262626" stroke-width="0.18">1500</text>
<line x1="251.20" y1="247.50" x2="251.20" y2="250.30" stroke="#333" stroke-width="1.0"/>
<text x="251.20" y="259.20" font-size="6.4" text-anchor="middle" textLength="13.2" lengthAdjust="spacingAndGlyphs" stroke="#262626" stroke-width="0.18">2000</text>
<text x="138.50" y="221.95" font-size="7.0" text-anchor="middle" textLength="37.2" lengthAdjust="spacingAndGlyphs" transform="rotate(-90 138.50 221.95)" stroke="#262626" stroke-width="0.18">OD (450nm)</text>
<text x="206.50" y="269.50" font-size="8.0" text-anchor="middle" textLength="38.3" lengthAdjust="spacingAndGlyphs" stroke="#262626" stroke-width="0.18">[FHR-1] (nM)</text>
<path d="M162.9,244.5 L162.9,243.5 L163.0,242.1 L163.2,240.4 L163.5,238.7 L163.8,236.9 L164.2,235.1 L164.7,233.3 L165.2,231.6 L165.9,229.9 L166.5,228.3 L167.3,226.7 L168.1,225.2 L169.1,223.8 L170.0,222.4 L171.1,221.1 L172.2,219.9 L173.4,218.7 L174.7,217.6 L176.1,216.5 L177.5,215.5 L179.0,214.6 L180.5,213.6 L182.2,212.8 L183.9,211.9 L185.7,211.2 L187.5,210.4 L189.5,209.7 L191.5,209.0 L193.5,208.3 L195.7,207.7 L197.9,207.1 L200.2,206.6 L202.6,206.0 L205.0,205.5 L207.5,205.0 L210.1,204.5 L212.8,204.0 L215.5,203.6 L218.3,203.2 L221.2,202.8 L224.2,202.4 L227.2,202.0 L230.3,201.6 L233.5,201.3 L236.7,201.0 L240.0,200.6 L243.4,200.3 L246.9,200.0 L250.4,199.7" stroke="#2a2a2a" stroke-width="0.8" fill="none"/>
<path d="M162.9,244.5 L162.9,244.1 L163.0,243.3 L163.2,242.3 L163.5,241.1 L163.8,239.8 L164.2,238.4 L164.7,236.9 L165.2,235.4 L165.9,233.9 L166.5,232.4 L167.3,230.9 L168.1,229.5 L169.1,228.1 L170.0,226.7 L171.1,225.3 L172.2,224.1 L173.4,222.8 L174.7,221.6 L176.1,220.5 L177.5,219.4 L179.0,218.3 L180.5,217.3 L182.2,216.3 L183.9,215.4 L185.7,214.5 L187.5,213.6 L189.5,212.8 L191.5,212.1 L193.5,211.3 L195.7,210.6 L197.9,209.9 L200.2,209.3 L202.6,208.7 L205.0,208.1 L207.5,207.5 L210.1,207.0 L212.8,206.5 L215.5,206.0 L218.3,205.5 L221.2,205.0 L224.2,204.6 L227.2,204.2 L230.3,203.8 L233.5,203.4 L236.7,203.0 L240.0,202.6 L243.4,202.3 L246.9,202.0 L250.4,201.6" stroke="#2a2a2a" stroke-width="0.8" fill="none"/>
<circle cx="162.90" cy="244.60" r="1.5" fill="#c8102e"/>
<circle cx="165.70" cy="235.60" r="1.5" fill="#c8102e"/>
<circle cx="168.70" cy="229.00" r="1.5" fill="#c8102e"/>
<circle cx="168.10" cy="224.80" r="1.5" fill="#2a5599"/>
<circle cx="173.10" cy="222.00" r="1.5" fill="#2a5599"/>
<circle cx="174.00" cy="223.50" r="1.5" fill="#c8102e"/>
<line x1="184.60" y1="210.20" x2="184.60" y2="213.20" stroke="#444" stroke-width="0.55"/>
<line x1="183.65" y1="210.20" x2="185.55" y2="210.20" stroke="#444" stroke-width="0.55"/>
<line x1="183.65" y1="213.20" x2="185.55" y2="213.20" stroke="#444" stroke-width="0.55"/>
<circle cx="184.60" cy="211.80" r="1.5" fill="#333"/>
<line x1="184.60" y1="208.80" x2="184.60" y2="219.00" stroke="#444" stroke-width="0.55"/>
<line x1="183.65" y1="208.80" x2="185.55" y2="208.80" stroke="#444" stroke-width="0.55"/>
<line x1="183.65" y1="219.00" x2="185.55" y2="219.00" stroke="#444" stroke-width="0.55"/>
<circle cx="184.60" cy="215.20" r="1.5" fill="#c8102e"/>
<line x1="201.30" y1="205.60" x2="201.30" y2="208.80" stroke="#444" stroke-width="0.55"/>
<line x1="200.35" y1="205.60" x2="202.25" y2="205.60" stroke="#444" stroke-width="0.55"/>
<line x1="200.35" y1="208.80" x2="202.25" y2="208.80" stroke="#444" stroke-width="0.55"/>
<circle cx="201.30" cy="207.20" r="1.5" fill="#2a5599"/>
<line x1="207.10" y1="205.40" x2="207.10" y2="209.40" stroke="#444" stroke-width="0.55"/>
<line x1="206.15" y1="205.40" x2="208.05" y2="205.40" stroke="#444" stroke-width="0.55"/>
<line x1="206.15" y1="209.40" x2="208.05" y2="209.40" stroke="#444" stroke-width="0.55"/>
<circle cx="207.10" cy="207.20" r="1.5" fill="#c8102e"/>
<line x1="239.80" y1="197.60" x2="239.80" y2="201.20" stroke="#444" stroke-width="0.55"/>
<line x1="238.85" y1="197.60" x2="240.75" y2="197.60" stroke="#444" stroke-width="0.55"/>
<line x1="238.85" y1="201.20" x2="240.75" y2="201.20" stroke="#444" stroke-width="0.55"/>
<circle cx="239.80" cy="199.30" r="1.5" fill="#2a5599"/>
<text x="224.80" y="194.70" font-size="5.9" textLength="8.2" lengthAdjust="spacingAndGlyphs" stroke="#262626" stroke-width="0.18">WT</text>
<text x="224.80" y="216.70" font-size="5.9" textLength="15.6" lengthAdjust="spacingAndGlyphs" stroke="#262626" stroke-width="0.18">L290V</text>
<line x1="290.80" y1="194.00" x2="290.80" y2="247.60" stroke="#333" stroke-width="1.45"/>
<line x1="288.20" y1="195.82" x2="290.80" y2="195.82" stroke="#333" stroke-width="1.0"/>
<text x="285.80" y="198.17" font-size="6.6" text-anchor="end" textLength="9.9" lengthAdjust="spacingAndGlyphs" stroke="#262626" stroke-width="0.18">0.6</text>
<line x1="288.20" y1="203.95" x2="290.80" y2="203.95" stroke="#333" stroke-width="1.0"/>
<text x="285.80" y="206.30" font-size="6.6" text-anchor="end" textLength="9.9" lengthAdjust="spacingAndGlyphs" stroke="#262626" stroke-width="0.18">0.5</text>
<line x1="288.20" y1="212.08" x2="290.80" y2="212.08" stroke="#333" stroke-width="1.0"/>
<text x="285.80" y="214.43" font-size="6.6" text-anchor="end" textLength="9.9" lengthAdjust="spacingAndGlyphs" stroke="#262626" stroke-width="0.18">0.4</text>
<line x1="288.20" y1="220.21" x2="290.80" y2="220.21" stroke="#333" stroke-width="1.0"/>
<text x="285.80" y="222.56" font-size="6.6" text-anchor="end" textLength="9.9" lengthAdjust="spacingAndGlyphs" stroke="#262626" stroke-width="0.18">0.3</text>
<line x1="288.20" y1="228.34" x2="290.80" y2="228.34" stroke="#333" stroke-width="1.0"/>
<text x="285.80" y="230.69" font-size="6.6" text-anchor="end" textLength="9.9" lengthAdjust="spacingAndGlyphs" stroke="#262626" stroke-width="0.18">0.2</text>
<line x1="288.20" y1="236.47" x2="290.80" y2="236.47" stroke="#333" stroke-width="1.0"/>
<text x="285.80" y="238.82" font-size="6.6" text-anchor="end" textLength="9.9" lengthAdjust="spacingAndGlyphs" stroke="#262626" stroke-width="0.18">0.1</text>
<line x1="288.20" y1="244.60" x2="290.80" y2="244.60" stroke="#333" stroke-width="1.0"/>
<text x="285.80" y="246.95" font-size="6.6" text-anchor="end" textLength="3.7" lengthAdjust="spacingAndGlyphs" stroke="#262626" stroke-width="0.18">0</text>
<line x1="290.80" y1="247.60" x2="382.80" y2="247.60" stroke="#333" stroke-width="1.45"/>
<line x1="294.10" y1="247.60" x2="294.10" y2="250.40" stroke="#333" stroke-width="1.0"/>
<text x="294.10" y="259.30" font-size="6.4" text-anchor="middle" textLength="3.3" lengthAdjust="spacingAndGlyphs" stroke="#262626" stroke-width="0.18">0</text>
<line x1="322.90" y1="247.60" x2="322.90" y2="250.40" stroke="#333" stroke-width="1.0"/>
<text x="322.90" y="259.30" font-size="6.4" text-anchor="middle" textLength="9.9" lengthAdjust="spacingAndGlyphs" stroke="#262626" stroke-width="0.18">100</text>
<line x1="351.70" y1="247.60" x2="351.70" y2="250.40" stroke="#333" stroke-width="1.0"/>
<text x="351.70" y="259.30" font-size="6.4" text-anchor="middle" textLength="9.9" lengthAdjust="spacingAndGlyphs" stroke="#262626" stroke-width="0.18">200</text>
<line x1="380.50" y1="247.60" x2="380.50" y2="250.40" stroke="#333" stroke-width="1.0"/>
<text x="380.50" y="259.30" font-size="6.4" text-anchor="middle" textLength="9.9" lengthAdjust="spacingAndGlyphs" stroke="#262626" stroke-width="0.18">300</text>
<text x="270.10" y="220.00" font-size="7.0" text-anchor="middle" textLength="37.2" lengthAdjust="spacingAndGlyphs" transform="rotate(-90 270.10 220.00)" stroke="#262626" stroke-width="0.18">OD (450nm)</text>
<text x="337.50" y="269.60" font-size="8.0" text-anchor="middle" textLength="38.3" lengthAdjust="spacingAndGlyphs" stroke="#262626" stroke-width="0.18">[FHR-1] (nM)</text>
<path d="M294.2,244.4 L294.2,244.0 L294.3,243.3 L294.5,242.5 L294.7,241.5 L295.0,240.5 L295.3,239.5 L295.7,238.3 L296.2,237.2 L296.7,236.0 L297.3,234.8 L298.0,233.6 L298.7,232.4 L299.5,231.1 L300.3,229.9 L301.2,228.7 L302.2,227.4 L303.2,226.2 L304.3,225.0 L305.4,223.8 L306.6,222.6 L307.9,221.5 L309.2,220.3 L310.6,219.2 L312.1,218.0 L313.6,216.9 L315.2,215.9 L316.9,214.8 L318.6,213.7 L320.3,212.7 L322.2,211.7 L324.1,210.7 L326.0,209.7 L328.0,208.8 L330.1,207.9 L332.3,206.9 L334.5,206.0 L336.7,205.2 L339.1,204.3 L341.5,203.5 L343.9,202.6 L346.4,201.8 L349.0,201.0 L351.6,200.3 L354.4,199.5 L357.1,198.8 L359.9,198.0 L362.8,197.3 L365.8,196.6 L368.8,195.9" stroke="#2a2a2a" stroke-width="0.8" fill="none"/>
<path d="M294.2,244.4 L294.2,244.2 L294.3,244.0 L294.5,243.7 L294.8,243.4 L295.1,243.0 L295.5,242.6 L296.0,242.2 L296.5,241.8 L297.1,241.3 L297.8,240.8 L298.5,240.4 L299.4,239.9 L300.3,239.4 L301.2,238.9 L302.3,238.3 L303.4,237.8 L304.6,237.3 L305.8,236.8 L307.2,236.2 L308.6,235.7 L310.0,235.1 L311.6,234.6 L313.2,234.0 L314.9,233.5 L316.6,232.9 L318.5,232.4 L320.4,231.8 L322.3,231.3 L324.4,230.7 L326.5,230.2 L328.7,229.6 L331.0,229.1 L333.3,228.5 L335.7,228.0 L338.2,227.5 L340.7,226.9 L343.3,226.4 L346.0,225.8 L348.8,225.3 L351.6,224.8 L354.6,224.3 L357.5,223.7 L360.6,223.2 L363.7,222.7 L366.9,222.2 L370.2,221.7 L373.5,221.2 L376.9,220.7 L380.4,220.2" stroke="#2a2a2a" stroke-width="0.8" fill="none"/>
<circle cx="294.20" cy="244.50" r="1.5" fill="#c8102e"/>
<line x1="302.90" y1="226.20" x2="302.90" y2="228.80" stroke="#444" stroke-width="0.55"/>
<line x1="301.95" y1="226.20" x2="303.85" y2="226.20" stroke="#444" stroke-width="0.55"/>
<line x1="301.95" y1="228.80" x2="303.85" y2="228.80" stroke="#444" stroke-width="0.55"/>
<circle cx="302.90" cy="227.40" r="1.5" fill="#c8102e"/>
<circle cx="312.10" cy="217.20" r="1.5" fill="#c8102e"/>
<line x1="329.80" y1="206.80" x2="329.80" y2="209.60" stroke="#444" stroke-width="0.55"/>
<line x1="328.85" y1="206.80" x2="330.75" y2="206.80" stroke="#444" stroke-width="0.55"/>
<line x1="328.85" y1="209.60" x2="330.75" y2="209.60" stroke="#444" stroke-width="0.55"/>
<circle cx="329.80" cy="208.20" r="1.5" fill="#c8102e"/>
<circle cx="366.00" cy="196.70" r="1.5" fill="#c8102e"/>
<circle cx="302.90" cy="238.40" r="1.5" fill="#2a5599"/>
<circle cx="312.10" cy="234.50" r="1.5" fill="#2a5599"/>
<line x1="329.80" y1="226.00" x2="329.80" y2="232.50" stroke="#444" stroke-width="0.55"/>
<line x1="328.85" y1="226.00" x2="330.75" y2="226.00" stroke="#444" stroke-width="0.55"/>
<line x1="328.85" y1="232.50" x2="330.75" y2="232.50" stroke="#444" stroke-width="0.55"/>
<circle cx="329.80" cy="229.30" r="1.5" fill="#2a5599"/>
<line x1="366.00" y1="219.00" x2="366.00" y2="225.50" stroke="#444" stroke-width="0.55"/>
<line x1="365.05" y1="219.00" x2="366.95" y2="219.00" stroke="#444" stroke-width="0.55"/>
<line x1="365.05" y1="225.50" x2="366.95" y2="225.50" stroke="#444" stroke-width="0.55"/>
<circle cx="366.00" cy="222.20" r="1.5" fill="#2a5599"/>
<text x="354.20" y="195.20" font-size="5.9" textLength="8.2" lengthAdjust="spacingAndGlyphs" stroke="#262626" stroke-width="0.18">WT</text>
<text x="352.40" y="215.90" font-size="5.9" textLength="32.4" lengthAdjust="spacingAndGlyphs" stroke="#262626" stroke-width="0.18">L290S, A296V</text>
<line x1="421.60" y1="197.00" x2="421.60" y2="247.50" stroke="#333" stroke-width="1.45"/>
<line x1="419.00" y1="198.90" x2="421.60" y2="198.90" stroke="#333" stroke-width="1.0"/>
<text x="416.60" y="201.25" font-size="6.6" text-anchor="end" textLength="9.9" lengthAdjust="spacingAndGlyphs" stroke="#262626" stroke-width="0.18">1.0</text>
<line x1="419.00" y1="208.00" x2="421.60" y2="208.00" stroke="#333" stroke-width="1.0"/>
<text x="416.60" y="210.35" font-size="6.6" text-anchor="end" textLength="9.9" lengthAdjust="spacingAndGlyphs" stroke="#262626" stroke-width="0.18">0.8</text>
<line x1="419.00" y1="217.10" x2="421.60" y2="217.10" stroke="#333" stroke-width="1.0"/>
<text x="416.60" y="219.45" font-size="6.6" text-anchor="end" textLength="9.9" lengthAdjust="spacingAndGlyphs" stroke="#262626" stroke-width="0.18">0.6</text>
<line x1="419.00" y1="226.20" x2="421.60" y2="226.20" stroke="#333" stroke-width="1.0"/>
<text x="416.60" y="228.55" font-size="6.6" text-anchor="end" textLength="9.9" lengthAdjust="spacingAndGlyphs" stroke="#262626" stroke-width="0.18">0.4</text>
<line x1="419.00" y1="235.30" x2="421.60" y2="235.30" stroke="#333" stroke-width="1.0"/>
<text x="416.60" y="237.65" font-size="6.6" text-anchor="end" textLength="9.9" lengthAdjust="spacingAndGlyphs" stroke="#262626" stroke-width="0.18">0.2</text>
<line x1="419.00" y1="244.40" x2="421.60" y2="244.40" stroke="#333" stroke-width="1.0"/>
<text x="416.60" y="246.75" font-size="6.6" text-anchor="end" textLength="3.7" lengthAdjust="spacingAndGlyphs" stroke="#262626" stroke-width="0.18">0</text>
<line x1="421.60" y1="247.50" x2="508.60" y2="247.50" stroke="#333" stroke-width="1.45"/>
<line x1="425.20" y1="247.50" x2="425.20" y2="250.30" stroke="#333" stroke-width="1.0"/>
<text x="425.20" y="259.20" font-size="6.4" text-anchor="middle" textLength="3.3" lengthAdjust="spacingAndGlyphs" stroke="#262626" stroke-width="0.18">0</text>
<line x1="452.60" y1="247.50" x2="452.60" y2="250.30" stroke="#333" stroke-width="1.0"/>
<text x="452.60" y="259.20" font-size="6.4" text-anchor="middle" textLength="9.9" lengthAdjust="spacingAndGlyphs" stroke="#262626" stroke-width="0.18">500</text>
<line x1="480.00" y1="247.50" x2="480.00" y2="250.30" stroke="#333" stroke-width="1.0"/>
<text x="480.00" y="259.20" font-size="6.4" text-anchor="middle" textLength="13.2" lengthAdjust="spacingAndGlyphs" stroke="#262626" stroke-width="0.18">1000</text>
<line x1="507.40" y1="247.50" x2="507.40" y2="250.30" stroke="#333" stroke-width="1.0"/>
<text x="507.40" y="259.20" font-size="6.4" text-anchor="middle" textLength="13.2" lengthAdjust="spacingAndGlyphs" stroke="#262626" stroke-width="0.18">1500</text>
<text x="399.70" y="221.45" font-size="7.0" text-anchor="middle" textLength="37.2" lengthAdjust="spacingAndGlyphs" transform="rotate(-90 399.70 221.45)" stroke="#262626" stroke-width="0.18">OD (450nm)</text>
<text x="467.00" y="269.50" font-size="8.0" text-anchor="middle" textLength="38.3" lengthAdjust="spacingAndGlyphs" stroke="#262626" stroke-width="0.18">[FHR-1] (nM)</text>
<path d="M425.4,244.6 L425.4,244.0 L425.5,243.0 L425.7,241.8 L426.0,240.6 L426.3,239.3 L426.7,237.9 L427.1,236.6 L427.7,235.2 L428.3,233.8 L428.9,232.4 L429.7,231.1 L430.5,229.7 L431.4,228.4 L432.3,227.1 L433.4,225.8 L434.5,224.6 L435.6,223.4 L436.9,222.2 L438.2,221.0 L439.6,219.9 L441.0,218.8 L442.5,217.7 L444.1,216.7 L445.8,215.7 L447.5,214.7 L449.3,213.8 L451.2,212.9 L453.2,212.0 L455.2,211.1 L457.3,210.3 L459.4,209.4 L461.7,208.6 L464.0,207.9 L466.3,207.1 L468.8,206.4 L471.3,205.7 L473.9,205.0 L476.5,204.4 L479.2,203.7 L482.0,203.1 L484.9,202.5 L487.8,201.9 L490.9,201.3 L493.9,200.8 L497.1,200.2 L500.3,199.7 L503.6,199.2 L507.0,198.7 L510.4,198.2" stroke="#2a2a2a" stroke-width="0.8" fill="none"/>
<path d="M425.4,244.6 L425.4,243.1 L425.5,241.6 L425.7,240.1 L426.0,238.6 L426.3,237.3 L426.7,236.0 L427.1,234.8 L427.7,233.7 L428.3,232.7 L428.9,231.7 L429.7,230.7 L430.5,229.8 L431.4,229.0 L432.3,228.2 L433.4,227.4 L434.5,226.7 L435.6,226.0 L436.9,225.4 L438.2,224.7 L439.6,224.2 L441.0,223.6 L442.5,223.1 L444.1,222.5 L445.8,222.1 L447.5,221.6 L449.3,221.1 L451.2,220.7 L453.2,220.3 L455.2,219.9 L457.3,219.5 L459.4,219.1 L461.7,218.8 L464.0,218.5 L466.3,218.1 L468.8,217.8 L471.3,217.5 L473.9,217.2 L476.5,216.9 L479.2,216.7 L482.0,216.4 L484.9,216.1 L487.8,215.9 L490.9,215.7 L493.9,215.4 L497.1,215.2 L500.3,215.0 L503.6,214.8 L507.0,214.6 L510.4,214.4" stroke="#2a2a2a" stroke-width="0.8" fill="none"/>
<circle cx="425.40" cy="244.60" r="1.5" fill="#c8102e"/>
<circle cx="427.70" cy="233.80" r="1.5" fill="#c8102e"/>
<circle cx="430.20" cy="229.70" r="1.5" fill="#2a5599"/>
<line x1="432.10" y1="225.00" x2="432.10" y2="228.60" stroke="#444" stroke-width="0.55"/>
<line x1="431.15" y1="225.00" x2="433.05" y2="225.00" stroke="#444" stroke-width="0.55"/>
<line x1="431.15" y1="228.60" x2="433.05" y2="228.60" stroke="#444" stroke-width="0.55"/>
<circle cx="432.10" cy="226.80" r="1.5" fill="#c8102e"/>
<line x1="438.50" y1="218.20" x2="438.50" y2="222.20" stroke="#444" stroke-width="0.55"/>
<line x1="437.55" y1="218.20" x2="439.45" y2="218.20" stroke="#444" stroke-width="0.55"/>
<line x1="437.55" y1="222.20" x2="439.45" y2="222.20" stroke="#444" stroke-width="0.55"/>
<circle cx="438.50" cy="220.20" r="1.5" fill="#c8102e"/>
<line x1="445.60" y1="223.60" x2="445.60" y2="227.00" stroke="#444" stroke-width="0.55"/>
<line x1="444.65" y1="223.60" x2="446.55" y2="223.60" stroke="#444" stroke-width="0.55"/>
<line x1="444.65" y1="227.00" x2="446.55" y2="227.00" stroke="#444" stroke-width="0.55"/>
<circle cx="445.60" cy="225.30" r="1.5" fill="#2a5599"/>
<circle cx="452.30" cy="213.00" r="1.5" fill="#c8102e"/>
<circle cx="466.00" cy="222.30" r="1.5" fill="#2a5599"/>
<line x1="479.00" y1="196.80" x2="479.00" y2="203.50" stroke="#444" stroke-width="0.55"/>
<line x1="478.05" y1="196.80" x2="479.95" y2="196.80" stroke="#444" stroke-width="0.55"/>
<line x1="478.05" y1="203.50" x2="479.95" y2="203.50" stroke="#444" stroke-width="0.55"/>
<circle cx="479.00" cy="200.60" r="1.5" fill="#c8102e"/>
<circle cx="506.70" cy="213.60" r="1.5" fill="#2a5599"/>
<text x="486.00" y="195.20" font-size="5.9" textLength="8.2" lengthAdjust="spacingAndGlyphs" stroke="#262626" stroke-width="0.18">WT</text>
<text x="485.60" y="213.20" font-size="5.9" textLength="14.0" lengthAdjust="spacingAndGlyphs" stroke="#262626" stroke-width="0.18">L290S</text>
<line x1="34.00" y1="323.60" x2="34.00" y2="387.20" stroke="#333" stroke-width="1.45"/>
<line x1="31.40" y1="325.80" x2="34.00" y2="325.80" stroke="#333" stroke-width="1.0"/>
<text x="28.00" y="328.15" font-size="6.6" text-anchor="end" textLength="9.9" lengthAdjust="spacingAndGlyphs" stroke="#262626" stroke-width="0.18">2.0</text>
<line x1="31.40" y1="340.15" x2="34.00" y2="340.15" stroke="#333" stroke-width="1.0"/>
<text x="28.00" y="342.50" font-size="6.6" text-anchor="end" textLength="9.9" lengthAdjust="spacingAndGlyphs" stroke="#262626" stroke-width="0.18">1.5</text>
<line x1="31.40" y1="354.50" x2="34.00" y2="354.50" stroke="#333" stroke-width="1.0"/>
<text x="28.00" y="356.85" font-size="6.6" text-anchor="end" textLength="9.9" lengthAdjust="spacingAndGlyphs" stroke="#262626" stroke-width="0.18">1.0</text>
<line x1="31.40" y1="368.85" x2="34.00" y2="368.85" stroke="#333" stroke-width="1.0"/>
<text x="28.00" y="371.20" font-size="6.6" text-anchor="end" textLength="9.9" lengthAdjust="spacingAndGlyphs" stroke="#262626" stroke-width="0.18">0.5</text>
<line x1="31.40" y1="383.20" x2="34.00" y2="383.20" stroke="#333" stroke-width="1.0"/>
<text x="28.00" y="385.55" font-size="6.6" text-anchor="end" textLength="9.9" lengthAdjust="spacingAndGlyphs" stroke="#262626" stroke-width="0.18">0.0</text>
<line x1="34.00" y1="387.20" x2="125.00" y2="387.20" stroke="#333" stroke-width="1.45"/>
<line x1="38.00" y1="387.20" x2="38.00" y2="390.00" stroke="#333" stroke-width="0.9"/>
<line x1="44.39" y1="387.20" x2="44.39" y2="388.80" stroke="#333" stroke-width="0.6"/>
<line x1="48.12" y1="387.20" x2="48.12" y2="388.80" stroke="#333" stroke-width="0.6"/>
<line x1="50.78" y1="387.20" x2="50.78" y2="388.80" stroke="#333" stroke-width="0.6"/>
<line x1="52.83" y1="387.20" x2="52.83" y2="388.80" stroke="#333" stroke-width="0.6"/>
<line x1="54.51" y1="387.20" x2="54.51" y2="388.80" stroke="#333" stroke-width="0.6"/>
<line x1="55.93" y1="387.20" x2="55.93" y2="388.80" stroke="#333" stroke-width="0.6"/>
<line x1="57.16" y1="387.20" x2="57.16" y2="388.80" stroke="#333" stroke-width="0.6"/>
<line x1="58.25" y1="387.20" x2="58.25" y2="388.80" stroke="#333" stroke-width="0.6"/>
<line x1="59.22" y1="387.20" x2="59.22" y2="390.00" stroke="#333" stroke-width="0.9"/>
<line x1="65.61" y1="387.20" x2="65.61" y2="388.80" stroke="#333" stroke-width="0.6"/>
<line x1="69.34" y1="387.20" x2="69.34" y2="388.80" stroke="#333" stroke-width="0.6"/>
<line x1="72.00" y1="387.20" x2="72.00" y2="388.80" stroke="#333" stroke-width="0.6"/>
<line x1="74.05" y1="387.20" x2="74.05" y2="388.80" stroke="#333" stroke-width="0.6"/>
<line x1="75.73" y1="387.20" x2="75.73" y2="388.80" stroke="#333" stroke-width="0.6"/>
<line x1="77.15" y1="387.20" x2="77.15" y2="388.80" stroke="#333" stroke-width="0.6"/>
<line x1="78.38" y1="387.20" x2="78.38" y2="388.80" stroke="#333" stroke-width="0.6"/>
<line x1="79.47" y1="387.20" x2="79.47" y2="388.80" stroke="#333" stroke-width="0.6"/>
<line x1="80.44" y1="387.20" x2="80.44" y2="390.00" stroke="#333" stroke-width="0.9"/>
<line x1="86.83" y1="387.20" x2="86.83" y2="388.80" stroke="#333" stroke-width="0.6"/>
<line x1="90.56" y1="387.20" x2="90.56" y2="388.80" stroke="#333" stroke-width="0.6"/>
<line x1="93.22" y1="387.20" x2="93.22" y2="388.80" stroke="#333" stroke-width="0.6"/>
<line x1="95.27" y1="387.20" x2="95.27" y2="388.80" stroke="#333" stroke-width="0.6"/>
<line x1="96.95" y1="387.20" x2="96.95" y2="388.80" stroke="#333" stroke-width="0.6"/>
<line x1="98.37" y1="387.20" x2="98.37" y2="388.80" stroke="#333" stroke-width="0.6"/>
<line x1="99.60" y1="387.20" x2="99.60" y2="388.80" stroke="#333" stroke-width="0.6"/>
<line x1="100.69" y1="387.20" x2="100.69" y2="388.80" stroke="#333" stroke-width="0.6"/>
<line x1="101.66" y1="387.20" x2="101.66" y2="390.00" stroke="#333" stroke-width="0.9"/>
<line x1="108.05" y1="387.20" x2="108.05" y2="388.80" stroke="#333" stroke-width="0.6"/>
<line x1="111.78" y1="387.20" x2="111.78" y2="388.80" stroke="#333" stroke-width="0.6"/>
<line x1="114.44" y1="387.20" x2="114.44" y2="388.80" stroke="#333" stroke-width="0.6"/>
<line x1="116.49" y1="387.20" x2="116.49" y2="388.80" stroke="#333" stroke-width="0.6"/>
<line x1="118.17" y1="387.20" x2="118.17" y2="388.80" stroke="#333" stroke-width="0.6"/>
<line x1="119.59" y1="387.20" x2="119.59" y2="388.80" stroke="#333" stroke-width="0.6"/>
<line x1="120.82" y1="387.20" x2="120.82" y2="388.80" stroke="#333" stroke-width="0.6"/>
<line x1="121.91" y1="387.20" x2="121.91" y2="388.80" stroke="#333" stroke-width="0.6"/>
<line x1="122.88" y1="387.20" x2="122.88" y2="390.00" stroke="#333" stroke-width="0.9"/>
<text x="38.00" y="398.70" font-size="6.4" text-anchor="middle" textLength="3.3" lengthAdjust="spacingAndGlyphs" stroke="#262626" stroke-width="0.18">1</text>
<text x="59.22" y="398.70" font-size="6.4" text-anchor="middle" textLength="6.6" lengthAdjust="spacingAndGlyphs" stroke="#262626" stroke-width="0.18">10</text>
<text x="80.44" y="398.70" font-size="6.4" text-anchor="middle" textLength="9.899999999999999" lengthAdjust="spacingAndGlyphs" stroke="#262626" stroke-width="0.18">100</text>
<text x="101.66" y="398.70" font-size="6.4" text-anchor="middle" textLength="13.2" lengthAdjust="spacingAndGlyphs" stroke="#262626" stroke-width="0.18">1000</text>
<text x="122.88" y="398.70" font-size="6.4" text-anchor="middle" textLength="16.5" lengthAdjust="spacingAndGlyphs" stroke="#262626" stroke-width="0.18">10000</text>
<text x="12.80" y="354.70" font-size="7.0" text-anchor="middle" textLength="37.2" lengthAdjust="spacingAndGlyphs" transform="rotate(-90 12.80 354.70)" stroke="#262626" stroke-width="0.18">OD (450nm)</text>
<text x="80.60" y="409.40" font-size="8.0" text-anchor="middle" textLength="38.3" lengthAdjust="spacingAndGlyphs" stroke="#262626" stroke-width="0.18">[FHR-1] (nM)</text>
<path d="M38.0,383.1 L39.1,383.1 L40.1,383.1 L41.2,383.1 L42.2,383.1 L43.3,383.1 L44.4,383.0 L45.4,383.0 L46.5,383.0 L47.5,382.9 L48.6,382.9 L49.7,382.9 L50.7,382.8 L51.8,382.7 L52.9,382.7 L53.9,382.6 L55.0,382.5 L56.0,382.4 L57.1,382.3 L58.2,382.1 L59.2,382.0 L60.3,381.8 L61.3,381.6 L62.4,381.3 L63.5,381.0 L64.5,380.7 L65.6,380.4 L66.6,379.9 L67.7,379.5 L68.8,378.9 L69.8,378.3 L70.9,377.6 L72.0,376.9 L73.0,376.0 L74.1,375.1 L75.1,374.0 L76.2,372.9 L77.3,371.6 L78.3,370.2 L79.4,368.7 L80.4,367.1 L81.5,365.3 L82.6,363.5 L83.6,361.6 L84.7,359.7 L85.7,357.6 L86.8,355.6 L87.9,353.5 L88.9,351.5 L90.0,349.4 L91.0,347.5 L92.1,345.6 L93.2,343.7 L94.2,342.0 L95.3,340.4 L96.4,338.9 L97.4,337.5 L98.5,336.2 L99.5,335.0 L100.6,334.0 L101.7,333.0 L102.7,332.2 L103.8,331.4 L104.8,330.7 L105.9,330.1 L107.0,329.6 L108.0,329.1 L109.1,328.7 L110.1,328.3 L111.2,328.0 L112.3,327.7 L113.3,327.4 L114.4,327.2 L115.5,327.0 L116.5,326.9 L117.6,326.7 L118.6,326.6 L119.7,326.5 L120.8,326.4 L121.8,326.3 L122.9,326.3" stroke="#000" stroke-width="0.7" fill="none"/>
<path d="M38.0,383.1 L39.1,383.1 L40.1,383.1 L41.2,383.1 L42.2,383.1 L43.3,383.1 L44.4,383.1 L45.4,383.0 L46.5,383.0 L47.5,383.0 L48.6,382.9 L49.7,382.9 L50.7,382.9 L51.8,382.8 L52.9,382.7 L53.9,382.7 L55.0,382.6 L56.0,382.5 L57.1,382.4 L58.2,382.3 L59.2,382.1 L60.3,382.0 L61.3,381.8 L62.4,381.6 L63.5,381.3 L64.5,381.0 L65.6,380.7 L66.6,380.4 L67.7,379.9 L68.8,379.5 L69.8,378.9 L70.9,378.3 L72.0,377.7 L73.0,376.9 L74.1,376.0 L75.1,375.1 L76.2,374.0 L77.3,372.9 L78.3,371.6 L79.4,370.2 L80.4,368.7 L81.5,367.1 L82.6,365.4 L83.6,363.5 L84.7,361.6 L85.7,359.7 L86.8,357.7 L87.9,355.6 L88.9,353.5 L90.0,351.5 L91.0,349.5 L92.1,347.5 L93.2,345.6 L94.2,343.8 L95.3,342.0 L96.4,340.4 L97.4,338.9 L98.5,337.5 L99.5,336.2 L100.6,335.0 L101.7,334.0 L102.7,333.0 L103.8,332.2 L104.8,331.4 L105.9,330.7 L107.0,330.1 L108.0,329.6 L109.1,329.1 L110.1,328.7 L111.2,328.3 L112.3,328.0 L113.3,327.7 L114.4,327.4 L115.5,327.2 L116.5,327.0 L117.6,326.9 L118.6,326.7 L119.7,326.6 L120.8,326.5 L121.8,326.4 L122.9,326.3" stroke="#000" stroke-width="0.7" fill="none"/>
<path d="M38.0,383.1 L39.1,383.1 L40.1,383.1 L41.2,383.1 L42.2,383.1 L43.3,383.1 L44.4,383.1 L45.4,383.1 L46.5,383.0 L47.5,383.0 L48.6,383.0 L49.7,382.9 L50.7,382.9 L51.8,382.9 L52.9,382.8 L53.9,382.7 L55.0,382.7 L56.0,382.6 L57.1,382.5 L58.2,382.4 L59.2,382.3 L60.3,382.1 L61.3,382.0 L62.4,381.8 L63.5,381.6 L64.5,381.3 L65.6,381.0 L66.6,380.7 L67.7,380.3 L68.8,379.9 L69.8,379.5 L70.9,378.9 L72.0,378.3 L73.0,377.6 L74.1,376.9 L75.1,376.0 L76.2,375.0 L77.3,374.0 L78.3,372.8 L79.4,371.5 L80.4,370.1 L81.5,368.6 L82.6,367.0 L83.6,365.3 L84.7,363.5 L85.7,361.6 L86.8,359.6 L87.9,357.6 L88.9,355.5 L90.0,353.5 L91.0,351.4 L92.1,349.4 L93.2,347.4 L94.2,345.5 L95.3,343.7 L96.4,342.0 L97.4,340.4 L98.5,338.8 L99.5,337.5 L100.6,336.2 L101.7,335.0 L102.7,333.9 L103.8,333.0 L104.8,332.1 L105.9,331.4 L107.0,330.7 L108.0,330.1 L109.1,329.5 L110.1,329.1 L111.2,328.7 L112.3,328.3 L113.3,328.0 L114.4,327.7 L115.5,327.4 L116.5,327.2 L117.6,327.0 L118.6,326.9 L119.7,326.7 L120.8,326.6 L121.8,326.5 L122.9,326.4" stroke="#000" stroke-width="0.7" fill="none"/>
<path d="M38.0,383.2 L39.1,383.1 L40.1,383.1 L41.2,383.1 L42.2,383.1 L43.3,383.1 L44.4,383.1 L45.4,383.1 L46.5,383.1 L47.5,383.0 L48.6,383.0 L49.7,383.0 L50.7,382.9 L51.8,382.9 L52.9,382.9 L53.9,382.8 L55.0,382.7 L56.0,382.7 L57.1,382.6 L58.2,382.5 L59.2,382.4 L60.3,382.3 L61.3,382.1 L62.4,382.0 L63.5,381.8 L64.5,381.6 L65.6,381.3 L66.6,381.0 L67.7,380.7 L68.8,380.3 L69.8,379.9 L70.9,379.4 L72.0,378.9 L73.0,378.3 L74.1,377.6 L75.1,376.9 L76.2,376.0 L77.3,375.0 L78.3,374.0 L79.4,372.8 L80.4,371.5 L81.5,370.1 L82.6,368.6 L83.6,367.0 L84.7,365.3 L85.7,363.5 L86.8,361.5 L87.9,359.6 L88.9,357.6 L90.0,355.5 L91.0,353.4 L92.1,351.4 L93.2,349.4 L94.2,347.4 L95.3,345.5 L96.4,343.7 L97.4,342.0 L98.5,340.3 L99.5,338.8 L100.6,337.4 L101.7,336.2 L102.7,335.0 L103.8,333.9 L104.8,333.0 L105.9,332.1 L107.0,331.4 L108.0,330.7 L109.1,330.1 L110.1,329.5 L111.2,329.1 L112.3,328.6 L113.3,328.3 L114.4,328.0 L115.5,327.7 L116.5,327.4 L117.6,327.2 L118.6,327.0 L119.7,326.9 L120.8,326.7 L121.8,326.6 L122.9,326.5" stroke="#000" stroke-width="0.7" fill="none"/>
<line x1="56.93" y1="377.75" x2="56.93" y2="380.62" stroke="#555" stroke-width="0.5"/>
<line x1="56.03" y1="377.75" x2="57.83" y2="377.75" stroke="#555" stroke-width="0.5"/>
<line x1="56.03" y1="380.62" x2="57.83" y2="380.62" stroke="#555" stroke-width="0.5"/>
<circle cx="56.93" cy="379.18" r="1.65" fill="#2a5599"/>
<line x1="63.32" y1="379.18" x2="63.32" y2="382.05" stroke="#555" stroke-width="0.5"/>
<line x1="62.42" y1="379.18" x2="64.22" y2="379.18" stroke="#555" stroke-width="0.5"/>
<line x1="62.42" y1="382.05" x2="64.22" y2="382.05" stroke="#555" stroke-width="0.5"/>
<circle cx="63.32" cy="380.62" r="1.65" fill="#2a5599"/>
<line x1="69.72" y1="376.89" x2="69.72" y2="379.76" stroke="#555" stroke-width="0.5"/>
<line x1="68.82" y1="376.89" x2="70.62" y2="376.89" stroke="#555" stroke-width="0.5"/>
<line x1="68.82" y1="379.76" x2="70.62" y2="379.76" stroke="#555" stroke-width="0.5"/>
<circle cx="69.72" cy="378.32" r="1.65" fill="#2a5599"/>
<line x1="76.11" y1="371.15" x2="76.11" y2="374.02" stroke="#555" stroke-width="0.5"/>
<line x1="75.21" y1="371.15" x2="77.01" y2="371.15" stroke="#555" stroke-width="0.5"/>
<line x1="75.21" y1="374.02" x2="77.01" y2="374.02" stroke="#555" stroke-width="0.5"/>
<circle cx="76.11" cy="372.58" r="1.65" fill="#2a5599"/>
<line x1="82.50" y1="365.12" x2="82.50" y2="367.99" stroke="#555" stroke-width="0.5"/>
<line x1="81.60" y1="365.12" x2="83.40" y2="365.12" stroke="#555" stroke-width="0.5"/>
<line x1="81.60" y1="367.99" x2="83.40" y2="367.99" stroke="#555" stroke-width="0.5"/>
<circle cx="82.50" cy="366.55" r="1.65" fill="#2a5599"/>
<line x1="88.88" y1="356.51" x2="88.88" y2="359.38" stroke="#555" stroke-width="0.5"/>
<line x1="87.98" y1="356.51" x2="89.78" y2="356.51" stroke="#555" stroke-width="0.5"/>
<line x1="87.98" y1="359.38" x2="89.78" y2="359.38" stroke="#555" stroke-width="0.5"/>
<circle cx="88.88" cy="357.94" r="1.65" fill="#2a5599"/>
<line x1="95.27" y1="341.01" x2="95.27" y2="343.88" stroke="#555" stroke-width="0.5"/>
<line x1="94.37" y1="341.01" x2="96.17" y2="341.01" stroke="#555" stroke-width="0.5"/>
<line x1="94.37" y1="343.88" x2="96.17" y2="343.88" stroke="#555" stroke-width="0.5"/>
<circle cx="95.27" cy="342.45" r="1.65" fill="#2a5599"/>
<line x1="56.93" y1="378.89" x2="56.93" y2="381.76" stroke="#555" stroke-width="0.5"/>
<line x1="56.03" y1="378.89" x2="57.83" y2="378.89" stroke="#555" stroke-width="0.5"/>
<line x1="56.03" y1="381.76" x2="57.83" y2="381.76" stroke="#555" stroke-width="0.5"/>
<circle cx="56.93" cy="380.33" r="1.65" fill="#62b843"/>
<line x1="63.32" y1="379.47" x2="63.32" y2="382.34" stroke="#555" stroke-width="0.5"/>
<line x1="62.42" y1="379.47" x2="64.22" y2="379.47" stroke="#555" stroke-width="0.5"/>
<line x1="62.42" y1="382.34" x2="64.22" y2="382.34" stroke="#555" stroke-width="0.5"/>
<circle cx="63.32" cy="380.90" r="1.65" fill="#62b843"/>
<line x1="69.72" y1="377.46" x2="69.72" y2="380.33" stroke="#555" stroke-width="0.5"/>
<line x1="68.82" y1="377.46" x2="70.62" y2="377.46" stroke="#555" stroke-width="0.5"/>
<line x1="68.82" y1="380.33" x2="70.62" y2="380.33" stroke="#555" stroke-width="0.5"/>
<circle cx="69.72" cy="378.89" r="1.65" fill="#62b843"/>
<line x1="76.11" y1="372.29" x2="76.11" y2="375.16" stroke="#555" stroke-width="0.5"/>
<line x1="75.21" y1="372.29" x2="77.01" y2="372.29" stroke="#555" stroke-width="0.5"/>
<line x1="75.21" y1="375.16" x2="77.01" y2="375.16" stroke="#555" stroke-width="0.5"/>
<circle cx="76.11" cy="373.73" r="1.65" fill="#62b843"/>
<line x1="82.50" y1="365.12" x2="82.50" y2="367.99" stroke="#555" stroke-width="0.5"/>
<line x1="81.60" y1="365.12" x2="83.40" y2="365.12" stroke="#555" stroke-width="0.5"/>
<line x1="81.60" y1="367.99" x2="83.40" y2="367.99" stroke="#555" stroke-width="0.5"/>
<circle cx="82.50" cy="366.55" r="1.65" fill="#62b843"/>
<line x1="88.88" y1="353.06" x2="88.88" y2="355.94" stroke="#555" stroke-width="0.5"/>
<line x1="87.98" y1="353.06" x2="89.78" y2="353.06" stroke="#555" stroke-width="0.5"/>
<line x1="87.98" y1="355.94" x2="89.78" y2="355.94" stroke="#555" stroke-width="0.5"/>
<circle cx="88.88" cy="354.50" r="1.65" fill="#62b843"/>
<line x1="95.27" y1="342.16" x2="95.27" y2="345.03" stroke="#555" stroke-width="0.5"/>
<line x1="94.37" y1="342.16" x2="96.17" y2="342.16" stroke="#555" stroke-width="0.5"/>
<line x1="94.37" y1="345.03" x2="96.17" y2="345.03" stroke="#555" stroke-width="0.5"/>
<circle cx="95.27" cy="343.59" r="1.65" fill="#62b843"/>
<line x1="56.93" y1="376.89" x2="56.93" y2="379.76" stroke="#555" stroke-width="0.5"/>
<line x1="56.03" y1="376.89" x2="57.83" y2="376.89" stroke="#555" stroke-width="0.5"/>
<line x1="56.03" y1="379.76" x2="57.83" y2="379.76" stroke="#555" stroke-width="0.5"/>
<circle cx="56.93" cy="378.32" r="1.65" fill="#4a1f6e"/>
<line x1="63.32" y1="378.89" x2="63.32" y2="381.76" stroke="#555" stroke-width="0.5"/>
<line x1="62.42" y1="378.89" x2="64.22" y2="378.89" stroke="#555" stroke-width="0.5"/>
<line x1="62.42" y1="381.76" x2="64.22" y2="381.76" stroke="#555" stroke-width="0.5"/>
<circle cx="63.32" cy="380.33" r="1.65" fill="#4a1f6e"/>
<line x1="69.72" y1="375.74" x2="69.72" y2="378.61" stroke="#555" stroke-width="0.5"/>
<line x1="68.82" y1="375.74" x2="70.62" y2="375.74" stroke="#555" stroke-width="0.5"/>
<line x1="68.82" y1="378.61" x2="70.62" y2="378.61" stroke="#555" stroke-width="0.5"/>
<circle cx="69.72" cy="377.17" r="1.65" fill="#4a1f6e"/>
<line x1="76.11" y1="370.57" x2="76.11" y2="373.44" stroke="#555" stroke-width="0.5"/>
<line x1="75.21" y1="370.57" x2="77.01" y2="370.57" stroke="#555" stroke-width="0.5"/>
<line x1="75.21" y1="373.44" x2="77.01" y2="373.44" stroke="#555" stroke-width="0.5"/>
<circle cx="76.11" cy="372.01" r="1.65" fill="#4a1f6e"/>
<line x1="82.50" y1="362.82" x2="82.50" y2="365.69" stroke="#555" stroke-width="0.5"/>
<line x1="81.60" y1="362.82" x2="83.40" y2="362.82" stroke="#555" stroke-width="0.5"/>
<line x1="81.60" y1="365.69" x2="83.40" y2="365.69" stroke="#555" stroke-width="0.5"/>
<circle cx="82.50" cy="364.26" r="1.65" fill="#4a1f6e"/>
<line x1="88.88" y1="350.19" x2="88.88" y2="353.06" stroke="#555" stroke-width="0.5"/>
<line x1="87.98" y1="350.19" x2="89.78" y2="350.19" stroke="#555" stroke-width="0.5"/>
<line x1="87.98" y1="353.06" x2="89.78" y2="353.06" stroke="#555" stroke-width="0.5"/>
<circle cx="88.88" cy="351.63" r="1.65" fill="#4a1f6e"/>
<line x1="95.27" y1="340.44" x2="95.27" y2="343.31" stroke="#555" stroke-width="0.5"/>
<line x1="94.37" y1="340.44" x2="96.17" y2="340.44" stroke="#555" stroke-width="0.5"/>
<line x1="94.37" y1="343.31" x2="96.17" y2="343.31" stroke="#555" stroke-width="0.5"/>
<circle cx="95.27" cy="341.87" r="1.65" fill="#4a1f6e"/>
<line x1="56.93" y1="380.04" x2="56.93" y2="382.91" stroke="#555" stroke-width="0.5"/>
<line x1="56.03" y1="380.04" x2="57.83" y2="380.04" stroke="#555" stroke-width="0.5"/>
<line x1="56.03" y1="382.91" x2="57.83" y2="382.91" stroke="#555" stroke-width="0.5"/>
<circle cx="56.93" cy="381.48" r="1.65" fill="#c8102e"/>
<line x1="63.32" y1="380.33" x2="63.32" y2="383.20" stroke="#555" stroke-width="0.5"/>
<line x1="62.42" y1="380.33" x2="64.22" y2="380.33" stroke="#555" stroke-width="0.5"/>
<line x1="62.42" y1="383.20" x2="64.22" y2="383.20" stroke="#555" stroke-width="0.5"/>
<circle cx="63.32" cy="381.76" r="1.65" fill="#c8102e"/>
<line x1="69.72" y1="378.03" x2="69.72" y2="380.90" stroke="#555" stroke-width="0.5"/>
<line x1="68.82" y1="378.03" x2="70.62" y2="378.03" stroke="#555" stroke-width="0.5"/>
<line x1="68.82" y1="380.90" x2="70.62" y2="380.90" stroke="#555" stroke-width="0.5"/>
<circle cx="69.72" cy="379.47" r="1.65" fill="#c8102e"/>
<line x1="76.11" y1="373.73" x2="76.11" y2="376.60" stroke="#555" stroke-width="0.5"/>
<line x1="75.21" y1="373.73" x2="77.01" y2="373.73" stroke="#555" stroke-width="0.5"/>
<line x1="75.21" y1="376.60" x2="77.01" y2="376.60" stroke="#555" stroke-width="0.5"/>
<circle cx="76.11" cy="375.16" r="1.65" fill="#c8102e"/>
<line x1="82.50" y1="367.99" x2="82.50" y2="370.86" stroke="#555" stroke-width="0.5"/>
<line x1="81.60" y1="367.99" x2="83.40" y2="367.99" stroke="#555" stroke-width="0.5"/>
<line x1="81.60" y1="370.86" x2="83.40" y2="370.86" stroke="#555" stroke-width="0.5"/>
<circle cx="82.50" cy="369.42" r="1.65" fill="#c8102e"/>
<line x1="88.88" y1="355.07" x2="88.88" y2="357.94" stroke="#555" stroke-width="0.5"/>
<line x1="87.98" y1="355.07" x2="89.78" y2="355.07" stroke="#555" stroke-width="0.5"/>
<line x1="87.98" y1="357.94" x2="89.78" y2="357.94" stroke="#555" stroke-width="0.5"/>
<circle cx="88.88" cy="356.51" r="1.65" fill="#c8102e"/>
<line x1="95.27" y1="343.02" x2="95.27" y2="345.89" stroke="#555" stroke-width="0.5"/>
<line x1="94.37" y1="343.02" x2="96.17" y2="343.02" stroke="#555" stroke-width="0.5"/>
<line x1="94.37" y1="345.89" x2="96.17" y2="345.89" stroke="#555" stroke-width="0.5"/>
<circle cx="95.27" cy="344.45" r="1.65" fill="#c8102e"/>
<circle cx="135.80" cy="351.20" r="1.95" fill="#c8102e"/>
<text x="140.10" y="353.40" font-size="6.2" fill="#333" textLength="7.0" lengthAdjust="spacingAndGlyphs" stroke="#333" stroke-width="0.18">C3</text>
<circle cx="135.80" cy="357.80" r="1.95" fill="#2a5599"/>
<text x="140.10" y="360.00" font-size="6.2" fill="#333" textLength="10.0" lengthAdjust="spacingAndGlyphs" stroke="#333" stroke-width="0.18">C3b</text>
<circle cx="135.80" cy="365.20" r="1.95" fill="#62b843"/>
<text x="140.10" y="367.40" font-size="6.2" fill="#333" textLength="11.3" lengthAdjust="spacingAndGlyphs" stroke="#333" stroke-width="0.18">iC3b</text>
<circle cx="135.80" cy="371.90" r="1.95" fill="#4a1f6e"/>
<text x="140.10" y="374.10" font-size="6.2" fill="#333" textLength="13.2" lengthAdjust="spacingAndGlyphs" stroke="#333" stroke-width="0.18">C3dg</text>
<line x1="189.50" y1="324.10" x2="189.50" y2="387.50" stroke="#333" stroke-width="1.45"/>
<line x1="186.90" y1="326.30" x2="189.50" y2="326.30" stroke="#333" stroke-width="1.0"/>
<text x="183.50" y="328.65" font-size="6.6" text-anchor="end" textLength="9.9" lengthAdjust="spacingAndGlyphs" stroke="#262626" stroke-width="0.18">2.0</text>
<line x1="186.90" y1="340.60" x2="189.50" y2="340.60" stroke="#333" stroke-width="1.0"/>
<text x="183.50" y="342.95" font-size="6.6" text-anchor="end" textLength="9.9" lengthAdjust="spacingAndGlyphs" stroke="#262626" stroke-width="0.18">1.5</text>
<line x1="186.90" y1="354.90" x2="189.50" y2="354.90" stroke="#333" stroke-width="1.0"/>
<text x="183.50" y="357.25" font-size="6.6" text-anchor="end" textLength="9.9" lengthAdjust="spacingAndGlyphs" stroke="#262626" stroke-width="0.18">1.0</text>
<line x1="186.90" y1="369.20" x2="189.50" y2="369.20" stroke="#333" stroke-width="1.0"/>
<text x="183.50" y="371.55" font-size="6.6" text-anchor="end" textLength="9.9" lengthAdjust="spacingAndGlyphs" stroke="#262626" stroke-width="0.18">0.5</text>
<line x1="186.90" y1="383.50" x2="189.50" y2="383.50" stroke="#333" stroke-width="1.0"/>
<text x="183.50" y="385.85" font-size="6.6" text-anchor="end" textLength="9.9" lengthAdjust="spacingAndGlyphs" stroke="#262626" stroke-width="0.18">0.0</text>
<line x1="189.50" y1="387.50" x2="280.00" y2="387.50" stroke="#333" stroke-width="1.45"/>
<line x1="193.10" y1="387.50" x2="193.10" y2="390.30" stroke="#333" stroke-width="0.9"/>
<line x1="199.45" y1="387.50" x2="199.45" y2="389.10" stroke="#333" stroke-width="0.6"/>
<line x1="203.17" y1="387.50" x2="203.17" y2="389.10" stroke="#333" stroke-width="0.6"/>
<line x1="205.80" y1="387.50" x2="205.80" y2="389.10" stroke="#333" stroke-width="0.6"/>
<line x1="207.85" y1="387.50" x2="207.85" y2="389.10" stroke="#333" stroke-width="0.6"/>
<line x1="209.52" y1="387.50" x2="209.52" y2="389.10" stroke="#333" stroke-width="0.6"/>
<line x1="210.93" y1="387.50" x2="210.93" y2="389.10" stroke="#333" stroke-width="0.6"/>
<line x1="212.16" y1="387.50" x2="212.16" y2="389.10" stroke="#333" stroke-width="0.6"/>
<line x1="213.23" y1="387.50" x2="213.23" y2="389.10" stroke="#333" stroke-width="0.6"/>
<line x1="214.20" y1="387.50" x2="214.20" y2="390.30" stroke="#333" stroke-width="0.9"/>
<line x1="220.55" y1="387.50" x2="220.55" y2="389.10" stroke="#333" stroke-width="0.6"/>
<line x1="224.27" y1="387.50" x2="224.27" y2="389.10" stroke="#333" stroke-width="0.6"/>
<line x1="226.90" y1="387.50" x2="226.90" y2="389.10" stroke="#333" stroke-width="0.6"/>
<line x1="228.95" y1="387.50" x2="228.95" y2="389.10" stroke="#333" stroke-width="0.6"/>
<line x1="230.62" y1="387.50" x2="230.62" y2="389.10" stroke="#333" stroke-width="0.6"/>
<line x1="232.03" y1="387.50" x2="232.03" y2="389.10" stroke="#333" stroke-width="0.6"/>
<line x1="233.26" y1="387.50" x2="233.26" y2="389.10" stroke="#333" stroke-width="0.6"/>
<line x1="234.33" y1="387.50" x2="234.33" y2="389.10" stroke="#333" stroke-width="0.6"/>
<line x1="235.30" y1="387.50" x2="235.30" y2="390.30" stroke="#333" stroke-width="0.9"/>
<line x1="241.65" y1="387.50" x2="241.65" y2="389.10" stroke="#333" stroke-width="0.6"/>
<line x1="245.37" y1="387.50" x2="245.37" y2="389.10" stroke="#333" stroke-width="0.6"/>
<line x1="248.00" y1="387.50" x2="248.00" y2="389.10" stroke="#333" stroke-width="0.6"/>
<line x1="250.05" y1="387.50" x2="250.05" y2="389.10" stroke="#333" stroke-width="0.6"/>
<line x1="251.72" y1="387.50" x2="251.72" y2="389.10" stroke="#333" stroke-width="0.6"/>
<line x1="253.13" y1="387.50" x2="253.13" y2="389.10" stroke="#333" stroke-width="0.6"/>
<line x1="254.36" y1="387.50" x2="254.36" y2="389.10" stroke="#333" stroke-width="0.6"/>
<line x1="255.43" y1="387.50" x2="255.43" y2="389.10" stroke="#333" stroke-width="0.6"/>
<line x1="256.40" y1="387.50" x2="256.40" y2="390.30" stroke="#333" stroke-width="0.9"/>
<line x1="262.75" y1="387.50" x2="262.75" y2="389.10" stroke="#333" stroke-width="0.6"/>
<line x1="266.47" y1="387.50" x2="266.47" y2="389.10" stroke="#333" stroke-width="0.6"/>
<line x1="269.10" y1="387.50" x2="269.10" y2="389.10" stroke="#333" stroke-width="0.6"/>
<line x1="271.15" y1="387.50" x2="271.15" y2="389.10" stroke="#333" stroke-width="0.6"/>
<line x1="272.82" y1="387.50" x2="272.82" y2="389.10" stroke="#333" stroke-width="0.6"/>
<line x1="274.23" y1="387.50" x2="274.23" y2="389.10" stroke="#333" stroke-width="0.6"/>
<line x1="275.46" y1="387.50" x2="275.46" y2="389.10" stroke="#333" stroke-width="0.6"/>
<line x1="276.53" y1="387.50" x2="276.53" y2="389.10" stroke="#333" stroke-width="0.6"/>
<line x1="277.50" y1="387.50" x2="277.50" y2="390.30" stroke="#333" stroke-width="0.9"/>
<text x="193.10" y="399.00" font-size="6.4" text-anchor="middle" textLength="3.3" lengthAdjust="spacingAndGlyphs" stroke="#262626" stroke-width="0.18">1</text>
<text x="214.20" y="399.00" font-size="6.4" text-anchor="middle" textLength="6.6" lengthAdjust="spacingAndGlyphs" stroke="#262626" stroke-width="0.18">10</text>
<text x="235.30" y="399.00" font-size="6.4" text-anchor="middle" textLength="9.899999999999999" lengthAdjust="spacingAndGlyphs" stroke="#262626" stroke-width="0.18">100</text>
<text x="256.40" y="399.00" font-size="6.4" text-anchor="middle" textLength="13.2" lengthAdjust="spacingAndGlyphs" stroke="#262626" stroke-width="0.18">1000</text>
<text x="277.50" y="399.00" font-size="6.4" text-anchor="middle" textLength="16.5" lengthAdjust="spacingAndGlyphs" stroke="#262626" stroke-width="0.18">10000</text>
<text x="168.50" y="355.10" font-size="7.0" text-anchor="middle" textLength="37.2" lengthAdjust="spacingAndGlyphs" transform="rotate(-90 168.50 355.10)" stroke="#262626" stroke-width="0.18">OD (450nm)</text>
<text x="235.80" y="409.80" font-size="8.0" text-anchor="middle" textLength="38.3" lengthAdjust="spacingAndGlyphs" stroke="#262626" stroke-width="0.18">[FHR-1] (nM)</text>
<path d="M193.1,383.2 L194.2,383.1 L195.2,383.1 L196.3,383.0 L197.3,383.0 L198.4,382.9 L199.4,382.8 L200.5,382.7 L201.5,382.7 L202.6,382.6 L203.7,382.4 L204.7,382.3 L205.8,382.2 L206.8,382.0 L207.9,381.8 L208.9,381.6 L210.0,381.4 L211.0,381.2 L212.1,380.9 L213.1,380.6 L214.2,380.3 L215.3,379.9 L216.3,379.5 L217.4,379.1 L218.4,378.6 L219.5,378.0 L220.5,377.4 L221.6,376.8 L222.6,376.1 L223.7,375.3 L224.8,374.4 L225.8,373.5 L226.9,372.5 L227.9,371.5 L229.0,370.4 L230.0,369.2 L231.1,367.9 L232.1,366.5 L233.2,365.1 L234.2,363.7 L235.3,362.2 L236.4,360.6 L237.4,359.0 L238.5,357.4 L239.5,355.7 L240.6,354.1 L241.6,352.4 L242.7,350.8 L243.7,349.2 L244.8,347.7 L245.8,346.1 L246.9,344.7 L248.0,343.3 L249.0,341.9 L250.1,340.7 L251.1,339.5 L252.2,338.3 L253.2,337.3 L254.3,336.3 L255.3,335.4 L256.4,334.5 L257.5,333.7 L258.5,333.0 L259.6,332.4 L260.6,331.8 L261.7,331.2 L262.7,330.7 L263.8,330.3 L264.8,329.9 L265.9,329.5 L266.9,329.2 L268.0,328.9 L269.1,328.6 L270.1,328.4 L271.2,328.2 L272.2,328.0 L273.3,327.8 L274.3,327.6 L275.4,327.5 L276.4,327.4 L277.5,327.2" stroke="#000" stroke-width="0.7" fill="none"/>
<path d="M193.1,383.2 L194.2,383.1 L195.2,383.1 L196.3,383.1 L197.3,383.0 L198.4,382.9 L199.4,382.9 L200.5,382.8 L201.5,382.7 L202.6,382.6 L203.7,382.5 L204.7,382.4 L205.8,382.3 L206.8,382.1 L207.9,382.0 L208.9,381.8 L210.0,381.6 L211.0,381.4 L212.1,381.1 L213.1,380.8 L214.2,380.5 L215.3,380.2 L216.3,379.8 L217.4,379.4 L218.4,378.9 L219.5,378.4 L220.5,377.8 L221.6,377.2 L222.6,376.6 L223.7,375.8 L224.8,375.0 L225.8,374.2 L226.9,373.2 L227.9,372.2 L229.0,371.1 L230.0,370.0 L231.1,368.8 L232.1,367.5 L233.2,366.1 L234.2,364.7 L235.3,363.2 L236.4,361.7 L237.4,360.1 L238.5,358.5 L239.5,356.9 L240.6,355.2 L241.6,353.6 L242.7,351.9 L243.7,350.3 L244.8,348.7 L245.8,347.2 L246.9,345.7 L248.0,344.2 L249.0,342.9 L250.1,341.5 L251.1,340.3 L252.2,339.1 L253.2,338.0 L254.3,337.0 L255.3,336.0 L256.4,335.1 L257.5,334.3 L258.5,333.5 L259.6,332.8 L260.6,332.2 L261.7,331.6 L262.7,331.1 L263.8,330.6 L264.8,330.2 L265.9,329.8 L266.9,329.4 L268.0,329.1 L269.1,328.8 L270.1,328.5 L271.2,328.3 L272.2,328.1 L273.3,327.9 L274.3,327.7 L275.4,327.6 L276.4,327.4 L277.5,327.3" stroke="#000" stroke-width="0.7" fill="none"/>
<path d="M193.1,383.2 L194.2,383.2 L195.2,383.1 L196.3,383.1 L197.3,383.0 L198.4,383.0 L199.4,382.9 L200.5,382.9 L201.5,382.8 L202.6,382.7 L203.7,382.6 L204.7,382.5 L205.8,382.4 L206.8,382.2 L207.9,382.1 L208.9,381.9 L210.0,381.7 L211.0,381.5 L212.1,381.3 L213.1,381.0 L214.2,380.7 L215.3,380.4 L216.3,380.1 L217.4,379.7 L218.4,379.2 L219.5,378.8 L220.5,378.2 L221.6,377.7 L222.6,377.0 L223.7,376.3 L224.8,375.6 L225.8,374.8 L226.9,373.9 L227.9,372.9 L229.0,371.9 L230.0,370.8 L231.1,369.6 L232.1,368.4 L233.2,367.1 L234.2,365.7 L235.3,364.2 L236.4,362.7 L237.4,361.2 L238.5,359.6 L239.5,358.0 L240.6,356.4 L241.6,354.7 L242.7,353.1 L243.7,351.4 L244.8,349.8 L245.8,348.3 L246.9,346.7 L248.0,345.2 L249.0,343.8 L250.1,342.4 L251.1,341.1 L252.2,339.9 L253.2,338.8 L254.3,337.7 L255.3,336.7 L256.4,335.7 L257.5,334.8 L258.5,334.0 L259.6,333.3 L260.6,332.6 L261.7,332.0 L262.7,331.4 L263.8,330.9 L264.8,330.5 L265.9,330.0 L266.9,329.7 L268.0,329.3 L269.1,329.0 L270.1,328.7 L271.2,328.5 L272.2,328.2 L273.3,328.0 L274.3,327.8 L275.4,327.7 L276.4,327.5 L277.5,327.4" stroke="#000" stroke-width="0.7" fill="none"/>
<path d="M193.1,383.2 L194.2,383.2 L195.2,383.2 L196.3,383.1 L197.3,383.1 L198.4,383.0 L199.4,383.0 L200.5,382.9 L201.5,382.8 L202.6,382.8 L203.7,382.7 L204.7,382.6 L205.8,382.5 L206.8,382.3 L207.9,382.2 L208.9,382.0 L210.0,381.9 L211.0,381.7 L212.1,381.5 L213.1,381.2 L214.2,380.9 L215.3,380.7 L216.3,380.3 L217.4,380.0 L218.4,379.6 L219.5,379.1 L220.5,378.6 L221.6,378.1 L222.6,377.5 L223.7,376.8 L224.8,376.1 L225.8,375.4 L226.9,374.5 L227.9,373.6 L229.0,372.6 L230.0,371.6 L231.1,370.5 L232.1,369.3 L233.2,368.0 L234.2,366.7 L235.3,365.3 L236.4,363.8 L237.4,362.3 L238.5,360.8 L239.5,359.2 L240.6,357.5 L241.6,355.9 L242.7,354.3 L243.7,352.6 L244.8,351.0 L245.8,349.4 L246.9,347.8 L248.0,346.3 L249.0,344.8 L250.1,343.4 L251.1,342.1 L252.2,340.8 L253.2,339.6 L254.3,338.4 L255.3,337.4 L256.4,336.4 L257.5,335.5 L258.5,334.6 L259.6,333.8 L260.6,333.1 L261.7,332.4 L262.7,331.8 L263.8,331.3 L264.8,330.8 L265.9,330.3 L266.9,329.9 L268.0,329.6 L269.1,329.2 L270.1,328.9 L271.2,328.6 L272.2,328.4 L273.3,328.2 L274.3,328.0 L275.4,327.8 L276.4,327.6 L277.5,327.5" stroke="#000" stroke-width="0.7" fill="none"/>
<line x1="211.92" y1="379.50" x2="211.92" y2="381.78" stroke="#555" stroke-width="0.5"/>
<line x1="211.02" y1="379.50" x2="212.82" y2="379.50" stroke="#555" stroke-width="0.5"/>
<line x1="211.02" y1="381.78" x2="212.82" y2="381.78" stroke="#555" stroke-width="0.5"/>
<circle cx="211.92" cy="380.64" r="1.65" fill="#2a5599"/>
<line x1="218.27" y1="378.07" x2="218.27" y2="380.35" stroke="#555" stroke-width="0.5"/>
<line x1="217.37" y1="378.07" x2="219.17" y2="378.07" stroke="#555" stroke-width="0.5"/>
<line x1="217.37" y1="380.35" x2="219.17" y2="380.35" stroke="#555" stroke-width="0.5"/>
<circle cx="218.27" cy="379.21" r="1.65" fill="#2a5599"/>
<line x1="224.64" y1="374.06" x2="224.64" y2="376.35" stroke="#555" stroke-width="0.5"/>
<line x1="223.74" y1="374.06" x2="225.54" y2="374.06" stroke="#555" stroke-width="0.5"/>
<line x1="223.74" y1="376.35" x2="225.54" y2="376.35" stroke="#555" stroke-width="0.5"/>
<circle cx="224.64" cy="375.21" r="1.65" fill="#2a5599"/>
<line x1="230.99" y1="368.91" x2="230.99" y2="371.20" stroke="#555" stroke-width="0.5"/>
<line x1="230.09" y1="368.91" x2="231.89" y2="368.91" stroke="#555" stroke-width="0.5"/>
<line x1="230.09" y1="371.20" x2="231.89" y2="371.20" stroke="#555" stroke-width="0.5"/>
<circle cx="230.99" cy="370.06" r="1.65" fill="#2a5599"/>
<line x1="237.34" y1="359.48" x2="237.34" y2="361.76" stroke="#555" stroke-width="0.5"/>
<line x1="236.44" y1="359.48" x2="238.24" y2="359.48" stroke="#555" stroke-width="0.5"/>
<line x1="236.44" y1="361.76" x2="238.24" y2="361.76" stroke="#555" stroke-width="0.5"/>
<circle cx="237.34" cy="360.62" r="1.65" fill="#2a5599"/>
<line x1="243.70" y1="352.33" x2="243.70" y2="354.61" stroke="#555" stroke-width="0.5"/>
<line x1="242.80" y1="352.33" x2="244.60" y2="352.33" stroke="#555" stroke-width="0.5"/>
<line x1="242.80" y1="354.61" x2="244.60" y2="354.61" stroke="#555" stroke-width="0.5"/>
<circle cx="243.70" cy="353.47" r="1.65" fill="#2a5599"/>
<line x1="250.05" y1="341.74" x2="250.05" y2="344.03" stroke="#555" stroke-width="0.5"/>
<line x1="249.15" y1="341.74" x2="250.95" y2="341.74" stroke="#555" stroke-width="0.5"/>
<line x1="249.15" y1="344.03" x2="250.95" y2="344.03" stroke="#555" stroke-width="0.5"/>
<circle cx="250.05" cy="342.89" r="1.65" fill="#2a5599"/>
<line x1="211.92" y1="379.78" x2="211.92" y2="382.07" stroke="#555" stroke-width="0.5"/>
<line x1="211.02" y1="379.78" x2="212.82" y2="379.78" stroke="#555" stroke-width="0.5"/>
<line x1="211.02" y1="382.07" x2="212.82" y2="382.07" stroke="#555" stroke-width="0.5"/>
<circle cx="211.92" cy="380.93" r="1.65" fill="#62b843"/>
<line x1="218.27" y1="378.07" x2="218.27" y2="380.35" stroke="#555" stroke-width="0.5"/>
<line x1="217.37" y1="378.07" x2="219.17" y2="378.07" stroke="#555" stroke-width="0.5"/>
<line x1="217.37" y1="380.35" x2="219.17" y2="380.35" stroke="#555" stroke-width="0.5"/>
<circle cx="218.27" cy="379.21" r="1.65" fill="#62b843"/>
<line x1="224.64" y1="373.78" x2="224.64" y2="376.06" stroke="#555" stroke-width="0.5"/>
<line x1="223.74" y1="373.78" x2="225.54" y2="373.78" stroke="#555" stroke-width="0.5"/>
<line x1="223.74" y1="376.06" x2="225.54" y2="376.06" stroke="#555" stroke-width="0.5"/>
<circle cx="224.64" cy="374.92" r="1.65" fill="#62b843"/>
<line x1="230.99" y1="368.06" x2="230.99" y2="370.34" stroke="#555" stroke-width="0.5"/>
<line x1="230.09" y1="368.06" x2="231.89" y2="368.06" stroke="#555" stroke-width="0.5"/>
<line x1="230.09" y1="370.34" x2="231.89" y2="370.34" stroke="#555" stroke-width="0.5"/>
<circle cx="230.99" cy="369.20" r="1.65" fill="#62b843"/>
<line x1="237.34" y1="358.90" x2="237.34" y2="361.19" stroke="#555" stroke-width="0.5"/>
<line x1="236.44" y1="358.90" x2="238.24" y2="358.90" stroke="#555" stroke-width="0.5"/>
<line x1="236.44" y1="361.19" x2="238.24" y2="361.19" stroke="#555" stroke-width="0.5"/>
<circle cx="237.34" cy="360.05" r="1.65" fill="#62b843"/>
<line x1="243.70" y1="350.90" x2="243.70" y2="353.18" stroke="#555" stroke-width="0.5"/>
<line x1="242.80" y1="350.90" x2="244.60" y2="350.90" stroke="#555" stroke-width="0.5"/>
<line x1="242.80" y1="353.18" x2="244.60" y2="353.18" stroke="#555" stroke-width="0.5"/>
<circle cx="243.70" cy="352.04" r="1.65" fill="#62b843"/>
<line x1="250.05" y1="340.03" x2="250.05" y2="342.32" stroke="#555" stroke-width="0.5"/>
<line x1="249.15" y1="340.03" x2="250.95" y2="340.03" stroke="#555" stroke-width="0.5"/>
<line x1="249.15" y1="342.32" x2="250.95" y2="342.32" stroke="#555" stroke-width="0.5"/>
<circle cx="250.05" cy="341.17" r="1.65" fill="#62b843"/>
<line x1="211.92" y1="379.50" x2="211.92" y2="381.78" stroke="#555" stroke-width="0.5"/>
<line x1="211.02" y1="379.50" x2="212.82" y2="379.50" stroke="#555" stroke-width="0.5"/>
<line x1="211.02" y1="381.78" x2="212.82" y2="381.78" stroke="#555" stroke-width="0.5"/>
<circle cx="211.92" cy="380.64" r="1.65" fill="#4a1f6e"/>
<line x1="218.27" y1="378.35" x2="218.27" y2="380.64" stroke="#555" stroke-width="0.5"/>
<line x1="217.37" y1="378.35" x2="219.17" y2="378.35" stroke="#555" stroke-width="0.5"/>
<line x1="217.37" y1="380.64" x2="219.17" y2="380.64" stroke="#555" stroke-width="0.5"/>
<circle cx="218.27" cy="379.50" r="1.65" fill="#4a1f6e"/>
<line x1="224.64" y1="374.63" x2="224.64" y2="376.92" stroke="#555" stroke-width="0.5"/>
<line x1="223.74" y1="374.63" x2="225.54" y2="374.63" stroke="#555" stroke-width="0.5"/>
<line x1="223.74" y1="376.92" x2="225.54" y2="376.92" stroke="#555" stroke-width="0.5"/>
<circle cx="224.64" cy="375.78" r="1.65" fill="#4a1f6e"/>
<line x1="230.99" y1="367.48" x2="230.99" y2="369.77" stroke="#555" stroke-width="0.5"/>
<line x1="230.09" y1="367.48" x2="231.89" y2="367.48" stroke="#555" stroke-width="0.5"/>
<line x1="230.09" y1="369.77" x2="231.89" y2="369.77" stroke="#555" stroke-width="0.5"/>
<circle cx="230.99" cy="368.63" r="1.65" fill="#4a1f6e"/>
<line x1="237.34" y1="360.05" x2="237.34" y2="362.34" stroke="#555" stroke-width="0.5"/>
<line x1="236.44" y1="360.05" x2="238.24" y2="360.05" stroke="#555" stroke-width="0.5"/>
<line x1="236.44" y1="362.34" x2="238.24" y2="362.34" stroke="#555" stroke-width="0.5"/>
<circle cx="237.34" cy="361.19" r="1.65" fill="#4a1f6e"/>
<line x1="243.70" y1="348.61" x2="243.70" y2="350.90" stroke="#555" stroke-width="0.5"/>
<line x1="242.80" y1="348.61" x2="244.60" y2="348.61" stroke="#555" stroke-width="0.5"/>
<line x1="242.80" y1="350.90" x2="244.60" y2="350.90" stroke="#555" stroke-width="0.5"/>
<circle cx="243.70" cy="349.75" r="1.65" fill="#4a1f6e"/>
<line x1="250.05" y1="342.32" x2="250.05" y2="344.60" stroke="#555" stroke-width="0.5"/>
<line x1="249.15" y1="342.32" x2="250.95" y2="342.32" stroke="#555" stroke-width="0.5"/>
<line x1="249.15" y1="344.60" x2="250.95" y2="344.60" stroke="#555" stroke-width="0.5"/>
<circle cx="250.05" cy="343.46" r="1.65" fill="#4a1f6e"/>
<line x1="211.92" y1="379.50" x2="211.92" y2="381.78" stroke="#555" stroke-width="0.5"/>
<line x1="211.02" y1="379.50" x2="212.82" y2="379.50" stroke="#555" stroke-width="0.5"/>
<line x1="211.02" y1="381.78" x2="212.82" y2="381.78" stroke="#555" stroke-width="0.5"/>
<circle cx="211.92" cy="380.64" r="1.65" fill="#c8102e"/>
<line x1="218.27" y1="378.64" x2="218.27" y2="380.93" stroke="#555" stroke-width="0.5"/>
<line x1="217.37" y1="378.64" x2="219.17" y2="378.64" stroke="#555" stroke-width="0.5"/>
<line x1="217.37" y1="380.93" x2="219.17" y2="380.93" stroke="#555" stroke-width="0.5"/>
<circle cx="218.27" cy="379.78" r="1.65" fill="#c8102e"/>
<line x1="224.64" y1="374.35" x2="224.64" y2="376.64" stroke="#555" stroke-width="0.5"/>
<line x1="223.74" y1="374.35" x2="225.54" y2="374.35" stroke="#555" stroke-width="0.5"/>
<line x1="223.74" y1="376.64" x2="225.54" y2="376.64" stroke="#555" stroke-width="0.5"/>
<circle cx="224.64" cy="375.49" r="1.65" fill="#c8102e"/>
<line x1="230.99" y1="370.34" x2="230.99" y2="372.63" stroke="#555" stroke-width="0.5"/>
<line x1="230.09" y1="370.34" x2="231.89" y2="370.34" stroke="#555" stroke-width="0.5"/>
<line x1="230.09" y1="372.63" x2="231.89" y2="372.63" stroke="#555" stroke-width="0.5"/>
<circle cx="230.99" cy="371.49" r="1.65" fill="#c8102e"/>
<line x1="237.34" y1="360.62" x2="237.34" y2="362.91" stroke="#555" stroke-width="0.5"/>
<line x1="236.44" y1="360.62" x2="238.24" y2="360.62" stroke="#555" stroke-width="0.5"/>
<line x1="236.44" y1="362.91" x2="238.24" y2="362.91" stroke="#555" stroke-width="0.5"/>
<circle cx="237.34" cy="361.76" r="1.65" fill="#c8102e"/>
<line x1="243.70" y1="350.32" x2="243.70" y2="352.61" stroke="#555" stroke-width="0.5"/>
<line x1="242.80" y1="350.32" x2="244.60" y2="350.32" stroke="#555" stroke-width="0.5"/>
<line x1="242.80" y1="352.61" x2="244.60" y2="352.61" stroke="#555" stroke-width="0.5"/>
<circle cx="243.70" cy="351.47" r="1.65" fill="#c8102e"/>
<line x1="250.05" y1="342.89" x2="250.05" y2="345.18" stroke="#555" stroke-width="0.5"/>
<line x1="249.15" y1="342.89" x2="250.95" y2="342.89" stroke="#555" stroke-width="0.5"/>
<line x1="249.15" y1="345.18" x2="250.95" y2="345.18" stroke="#555" stroke-width="0.5"/>
<circle cx="250.05" cy="344.03" r="1.65" fill="#c8102e"/>
<circle cx="290.60" cy="351.90" r="1.95" fill="#c8102e"/>
<text x="294.90" y="354.10" font-size="6.2" fill="#333" textLength="7.0" lengthAdjust="spacingAndGlyphs" stroke="#333" stroke-width="0.18">C3</text>
<circle cx="290.60" cy="358.40" r="1.95" fill="#2a5599"/>
<text x="294.90" y="360.60" font-size="6.2" fill="#333" textLength="10.0" lengthAdjust="spacingAndGlyphs" stroke="#333" stroke-width="0.18">C3b</text>
<circle cx="290.60" cy="365.20" r="1.95" fill="#62b843"/>
<text x="294.90" y="367.40" font-size="6.2" fill="#333" textLength="11.3" lengthAdjust="spacingAndGlyphs" stroke="#333" stroke-width="0.18">iC3b</text>
<circle cx="290.60" cy="372.00" r="1.95" fill="#4a1f6e"/>
<text x="294.90" y="374.20" font-size="6.2" fill="#333" textLength="13.2" lengthAdjust="spacingAndGlyphs" stroke="#333" stroke-width="0.18">C3dg</text>
<text x="64.00" y="316.00" font-size="9.2" fill="#1a1a1a" textLength="22.2" lengthAdjust="spacingAndGlyphs" stroke="#1a1a1a" stroke-width="0.18">FHR-1</text>
<text x="86.90" y="318.00" font-size="6.0" fill="#1a1a1a" textLength="9.2" lengthAdjust="spacingAndGlyphs" stroke="#1a1a1a" stroke-width="0.18">WT</text>
<text x="205.00" y="316.00" font-size="9.2" fill="#1a1a1a" textLength="22.2" lengthAdjust="spacingAndGlyphs" stroke="#1a1a1a" stroke-width="0.18">FHR-1</text>
<text x="228.20" y="318.00" font-size="6.0" fill="#1a1a1a" textLength="35.0" lengthAdjust="spacingAndGlyphs" stroke="#1a1a1a" stroke-width="0.18">L290S,A296V</text>
<line x1="356.40" y1="298.60" x2="356.40" y2="387.40" stroke="#333" stroke-width="1.45"/>
<line x1="353.80" y1="301.40" x2="356.40" y2="301.40" stroke="#333" stroke-width="1.0"/>
<text x="350.30" y="303.75" font-size="6.6" text-anchor="end" textLength="9.9" lengthAdjust="spacingAndGlyphs" stroke="#262626" stroke-width="0.18">1.0</text>
<line x1="353.80" y1="318.60" x2="356.40" y2="318.60" stroke="#333" stroke-width="1.0"/>
<text x="350.30" y="320.95" font-size="6.6" text-anchor="end" textLength="9.9" lengthAdjust="spacingAndGlyphs" stroke="#262626" stroke-width="0.18">0.8</text>
<line x1="353.80" y1="335.80" x2="356.40" y2="335.80" stroke="#333" stroke-width="1.0"/>
<text x="350.30" y="338.15" font-size="6.6" text-anchor="end" textLength="9.9" lengthAdjust="spacingAndGlyphs" stroke="#262626" stroke-width="0.18">0.6</text>
<line x1="353.80" y1="353.00" x2="356.40" y2="353.00" stroke="#333" stroke-width="1.0"/>
<text x="350.30" y="355.35" font-size="6.6" text-anchor="end" textLength="9.9" lengthAdjust="spacingAndGlyphs" stroke="#262626" stroke-width="0.18">0.4</text>
<line x1="353.80" y1="370.20" x2="356.40" y2="370.20" stroke="#333" stroke-width="1.0"/>
<text x="350.30" y="372.55" font-size="6.6" text-anchor="end" textLength="9.9" lengthAdjust="spacingAndGlyphs" stroke="#262626" stroke-width="0.18">0.2</text>
<text x="350.30" y="389.75" font-size="6.6" text-anchor="end" textLength="3.7" lengthAdjust="spacingAndGlyphs" stroke="#262626" stroke-width="0.18">0</text>
<text x="335.50" y="342.40" font-size="7.0" text-anchor="middle" textLength="37.2" lengthAdjust="spacingAndGlyphs" transform="rotate(-90 335.50 342.40)" stroke="#262626" stroke-width="0.18">OD (450nm)</text>
<rect x="361.40" y="315.16" width="11.30" height="72.24" fill="#a8052c"/>
<line x1="367.05" y1="315.16" x2="367.05" y2="313.44" stroke="#222" stroke-width="0.7"/>
<line x1="365.45" y1="313.44" x2="368.65" y2="313.44" stroke="#222" stroke-width="0.7"/>
<text x="367.05" y="310.84" font-size="5.6" text-anchor="middle" textLength="6.0" lengthAdjust="spacingAndGlyphs" stroke="#262626" stroke-width="0.18">C3</text>
<rect x="376.60" y="312.58" width="11.60" height="74.82" fill="#2b4a80"/>
<line x1="382.40" y1="312.58" x2="382.40" y2="310.86" stroke="#222" stroke-width="0.7"/>
<line x1="380.80" y1="310.86" x2="384.00" y2="310.86" stroke="#222" stroke-width="0.7"/>
<text x="382.40" y="308.26" font-size="5.6" text-anchor="middle" textLength="8.6" lengthAdjust="spacingAndGlyphs" stroke="#262626" stroke-width="0.18">C3b</text>
<rect x="398.60" y="385.25" width="11.20" height="2.15" fill="#a8052c"/>
<line x1="404.20" y1="385.25" x2="404.20" y2="381.38" stroke="#222" stroke-width="0.7"/>
<line x1="402.60" y1="381.38" x2="405.80" y2="381.38" stroke="#222" stroke-width="0.7"/>
<text x="404.20" y="378.78" font-size="5.6" text-anchor="middle" textLength="6.0" lengthAdjust="spacingAndGlyphs" stroke="#262626" stroke-width="0.18">C3</text>
<rect x="413.80" y="340.10" width="11.70" height="47.30" fill="#2b4a80"/>
<line x1="419.65" y1="340.10" x2="419.65" y2="338.81" stroke="#222" stroke-width="0.7"/>
<line x1="418.05" y1="338.81" x2="421.25" y2="338.81" stroke="#222" stroke-width="0.7"/>
<text x="419.65" y="336.21" font-size="5.6" text-anchor="middle" textLength="8.6" lengthAdjust="spacingAndGlyphs" stroke="#262626" stroke-width="0.18">C3b</text>
<line x1="353.10" y1="387.45" x2="430.40" y2="387.45" stroke="#222" stroke-width="1.1"/>
<text x="374.60" y="396.40" font-size="6.4" text-anchor="middle" textLength="16.5" lengthAdjust="spacingAndGlyphs" stroke="#262626" stroke-width="0.18">FHR-1</text>
<text x="374.60" y="403.70" font-size="6.4" text-anchor="middle" textLength="23.5" lengthAdjust="spacingAndGlyphs" stroke="#262626" stroke-width="0.18">(300nM)</text>
<text x="413.70" y="396.40" font-size="6.4" text-anchor="middle" textLength="7.2" lengthAdjust="spacingAndGlyphs" stroke="#262626" stroke-width="0.18">FH</text>
<text x="413.70" y="403.70" font-size="6.4" text-anchor="middle" textLength="23.5" lengthAdjust="spacingAndGlyphs" stroke="#262626" stroke-width="0.18">(300nM)</text>
<rect x="0.5" y="0.5" width="519" height="419" fill="none" stroke="#000" stroke-width="1"/>
</svg>
</body></html>
